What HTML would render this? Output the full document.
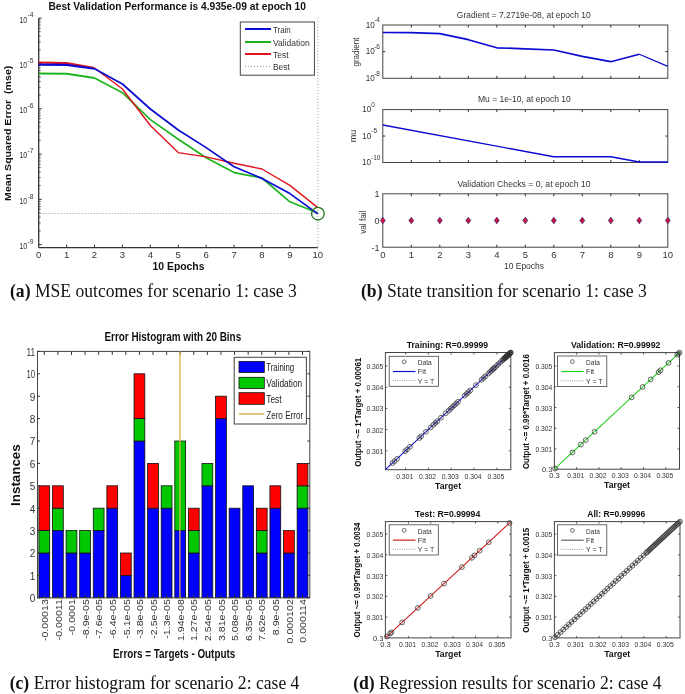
<!DOCTYPE html>
<html><head><meta charset="utf-8"><style>
html,body{margin:0;padding:0;background:#fff;width:685px;height:694px;overflow:hidden}
svg{display:block;will-change:transform;filter:blur(0.3px)}
</style></head><body>
<svg width="685" height="694" viewBox="0 0 685 694">
<rect width="685" height="694" fill="#fff"/>
<text x="48.4" y="9.9" font-size="10.4" text-anchor="start" font-weight="bold" fill="#111" font-family='"Liberation Sans", sans-serif' textLength="257.6" lengthAdjust="spacingAndGlyphs" >Best Validation Performance is 4.935e-09 at epoch 10</text>
<line x1="38.70" y1="17.90" x2="38.70" y2="247.60" stroke="#333" stroke-width="1.3" />
<line x1="38.70" y1="247.60" x2="317.80" y2="247.60" stroke="#333" stroke-width="1.3" />
<text x="38.7" y="258.0" font-size="9.5" text-anchor="middle" font-weight="normal" fill="#333" font-family='"Liberation Sans", sans-serif' >0</text>
<line x1="66.61" y1="247.60" x2="66.61" y2="244.60" stroke="#333" stroke-width="1" />
<text x="66.6" y="258.0" font-size="9.5" text-anchor="middle" font-weight="normal" fill="#333" font-family='"Liberation Sans", sans-serif' >1</text>
<line x1="94.52" y1="247.60" x2="94.52" y2="244.60" stroke="#333" stroke-width="1" />
<text x="94.5" y="258.0" font-size="9.5" text-anchor="middle" font-weight="normal" fill="#333" font-family='"Liberation Sans", sans-serif' >2</text>
<line x1="122.43" y1="247.60" x2="122.43" y2="244.60" stroke="#333" stroke-width="1" />
<text x="122.4" y="258.0" font-size="9.5" text-anchor="middle" font-weight="normal" fill="#333" font-family='"Liberation Sans", sans-serif' >3</text>
<line x1="150.34" y1="247.60" x2="150.34" y2="244.60" stroke="#333" stroke-width="1" />
<text x="150.3" y="258.0" font-size="9.5" text-anchor="middle" font-weight="normal" fill="#333" font-family='"Liberation Sans", sans-serif' >4</text>
<line x1="178.25" y1="247.60" x2="178.25" y2="244.60" stroke="#333" stroke-width="1" />
<text x="178.2" y="258.0" font-size="9.5" text-anchor="middle" font-weight="normal" fill="#333" font-family='"Liberation Sans", sans-serif' >5</text>
<line x1="206.16" y1="247.60" x2="206.16" y2="244.60" stroke="#333" stroke-width="1" />
<text x="206.2" y="258.0" font-size="9.5" text-anchor="middle" font-weight="normal" fill="#333" font-family='"Liberation Sans", sans-serif' >6</text>
<line x1="234.07" y1="247.60" x2="234.07" y2="244.60" stroke="#333" stroke-width="1" />
<text x="234.1" y="258.0" font-size="9.5" text-anchor="middle" font-weight="normal" fill="#333" font-family='"Liberation Sans", sans-serif' >7</text>
<line x1="261.98" y1="247.60" x2="261.98" y2="244.60" stroke="#333" stroke-width="1" />
<text x="262.0" y="258.0" font-size="9.5" text-anchor="middle" font-weight="normal" fill="#333" font-family='"Liberation Sans", sans-serif' >8</text>
<line x1="289.89" y1="247.60" x2="289.89" y2="244.60" stroke="#333" stroke-width="1" />
<text x="289.9" y="258.0" font-size="9.5" text-anchor="middle" font-weight="normal" fill="#333" font-family='"Liberation Sans", sans-serif' >9</text>
<text x="317.8" y="258.0" font-size="9.5" text-anchor="middle" font-weight="normal" fill="#333" font-family='"Liberation Sans", sans-serif' >10</text>
<line x1="38.70" y1="244.60" x2="41.70" y2="244.60" stroke="#333" stroke-width="1" />
<text x="27.3" y="249.0" font-size="9" text-anchor="end" font-weight="normal" fill="#333" font-family='"Liberation Sans", sans-serif' textLength="7.9" lengthAdjust="spacingAndGlyphs" >10</text>
<text x="27.6" y="243.8" font-size="6.8" text-anchor="start" font-weight="normal" fill="#333" font-family='"Liberation Sans", sans-serif' >-9</text>
<line x1="38.70" y1="230.96" x2="40.70" y2="230.96" stroke="#333" stroke-width="0.8" />
<line x1="38.70" y1="222.99" x2="40.70" y2="222.99" stroke="#333" stroke-width="0.8" />
<line x1="38.70" y1="217.33" x2="40.70" y2="217.33" stroke="#333" stroke-width="0.8" />
<line x1="38.70" y1="212.94" x2="40.70" y2="212.94" stroke="#333" stroke-width="0.8" />
<line x1="38.70" y1="209.35" x2="40.70" y2="209.35" stroke="#333" stroke-width="0.8" />
<line x1="38.70" y1="206.32" x2="40.70" y2="206.32" stroke="#333" stroke-width="0.8" />
<line x1="38.70" y1="203.69" x2="40.70" y2="203.69" stroke="#333" stroke-width="0.8" />
<line x1="38.70" y1="201.37" x2="40.70" y2="201.37" stroke="#333" stroke-width="0.8" />
<line x1="38.70" y1="199.30" x2="41.70" y2="199.30" stroke="#333" stroke-width="1" />
<text x="27.3" y="203.7" font-size="9" text-anchor="end" font-weight="normal" fill="#333" font-family='"Liberation Sans", sans-serif' textLength="7.9" lengthAdjust="spacingAndGlyphs" >10</text>
<text x="27.6" y="198.5" font-size="6.8" text-anchor="start" font-weight="normal" fill="#333" font-family='"Liberation Sans", sans-serif' >-8</text>
<line x1="38.70" y1="185.66" x2="40.70" y2="185.66" stroke="#333" stroke-width="0.8" />
<line x1="38.70" y1="177.69" x2="40.70" y2="177.69" stroke="#333" stroke-width="0.8" />
<line x1="38.70" y1="172.03" x2="40.70" y2="172.03" stroke="#333" stroke-width="0.8" />
<line x1="38.70" y1="167.64" x2="40.70" y2="167.64" stroke="#333" stroke-width="0.8" />
<line x1="38.70" y1="164.05" x2="40.70" y2="164.05" stroke="#333" stroke-width="0.8" />
<line x1="38.70" y1="161.02" x2="40.70" y2="161.02" stroke="#333" stroke-width="0.8" />
<line x1="38.70" y1="158.39" x2="40.70" y2="158.39" stroke="#333" stroke-width="0.8" />
<line x1="38.70" y1="156.07" x2="40.70" y2="156.07" stroke="#333" stroke-width="0.8" />
<line x1="38.70" y1="154.00" x2="41.70" y2="154.00" stroke="#333" stroke-width="1" />
<text x="27.3" y="158.4" font-size="9" text-anchor="end" font-weight="normal" fill="#333" font-family='"Liberation Sans", sans-serif' textLength="7.9" lengthAdjust="spacingAndGlyphs" >10</text>
<text x="27.6" y="153.2" font-size="6.8" text-anchor="start" font-weight="normal" fill="#333" font-family='"Liberation Sans", sans-serif' >-7</text>
<line x1="38.70" y1="140.36" x2="40.70" y2="140.36" stroke="#333" stroke-width="0.8" />
<line x1="38.70" y1="132.39" x2="40.70" y2="132.39" stroke="#333" stroke-width="0.8" />
<line x1="38.70" y1="126.73" x2="40.70" y2="126.73" stroke="#333" stroke-width="0.8" />
<line x1="38.70" y1="122.34" x2="40.70" y2="122.34" stroke="#333" stroke-width="0.8" />
<line x1="38.70" y1="118.75" x2="40.70" y2="118.75" stroke="#333" stroke-width="0.8" />
<line x1="38.70" y1="115.72" x2="40.70" y2="115.72" stroke="#333" stroke-width="0.8" />
<line x1="38.70" y1="113.09" x2="40.70" y2="113.09" stroke="#333" stroke-width="0.8" />
<line x1="38.70" y1="110.77" x2="40.70" y2="110.77" stroke="#333" stroke-width="0.8" />
<line x1="38.70" y1="108.70" x2="41.70" y2="108.70" stroke="#333" stroke-width="1" />
<text x="27.3" y="113.1" font-size="9" text-anchor="end" font-weight="normal" fill="#333" font-family='"Liberation Sans", sans-serif' textLength="7.9" lengthAdjust="spacingAndGlyphs" >10</text>
<text x="27.6" y="107.9" font-size="6.8" text-anchor="start" font-weight="normal" fill="#333" font-family='"Liberation Sans", sans-serif' >-6</text>
<line x1="38.70" y1="95.06" x2="40.70" y2="95.06" stroke="#333" stroke-width="0.8" />
<line x1="38.70" y1="87.09" x2="40.70" y2="87.09" stroke="#333" stroke-width="0.8" />
<line x1="38.70" y1="81.43" x2="40.70" y2="81.43" stroke="#333" stroke-width="0.8" />
<line x1="38.70" y1="77.04" x2="40.70" y2="77.04" stroke="#333" stroke-width="0.8" />
<line x1="38.70" y1="73.45" x2="40.70" y2="73.45" stroke="#333" stroke-width="0.8" />
<line x1="38.70" y1="70.42" x2="40.70" y2="70.42" stroke="#333" stroke-width="0.8" />
<line x1="38.70" y1="67.79" x2="40.70" y2="67.79" stroke="#333" stroke-width="0.8" />
<line x1="38.70" y1="65.47" x2="40.70" y2="65.47" stroke="#333" stroke-width="0.8" />
<line x1="38.70" y1="63.40" x2="41.70" y2="63.40" stroke="#333" stroke-width="1" />
<text x="27.3" y="67.8" font-size="9" text-anchor="end" font-weight="normal" fill="#333" font-family='"Liberation Sans", sans-serif' textLength="7.9" lengthAdjust="spacingAndGlyphs" >10</text>
<text x="27.6" y="62.6" font-size="6.8" text-anchor="start" font-weight="normal" fill="#333" font-family='"Liberation Sans", sans-serif' >-5</text>
<line x1="38.70" y1="49.76" x2="40.70" y2="49.76" stroke="#333" stroke-width="0.8" />
<line x1="38.70" y1="41.79" x2="40.70" y2="41.79" stroke="#333" stroke-width="0.8" />
<line x1="38.70" y1="36.13" x2="40.70" y2="36.13" stroke="#333" stroke-width="0.8" />
<line x1="38.70" y1="31.74" x2="40.70" y2="31.74" stroke="#333" stroke-width="0.8" />
<line x1="38.70" y1="28.15" x2="40.70" y2="28.15" stroke="#333" stroke-width="0.8" />
<line x1="38.70" y1="25.12" x2="40.70" y2="25.12" stroke="#333" stroke-width="0.8" />
<line x1="38.70" y1="22.49" x2="40.70" y2="22.49" stroke="#333" stroke-width="0.8" />
<line x1="38.70" y1="20.17" x2="40.70" y2="20.17" stroke="#333" stroke-width="0.8" />
<line x1="38.70" y1="18.10" x2="41.70" y2="18.10" stroke="#333" stroke-width="1" />
<text x="27.3" y="22.5" font-size="9" text-anchor="end" font-weight="normal" fill="#333" font-family='"Liberation Sans", sans-serif' textLength="7.9" lengthAdjust="spacingAndGlyphs" >10</text>
<text x="27.6" y="17.3" font-size="6.8" text-anchor="start" font-weight="normal" fill="#333" font-family='"Liberation Sans", sans-serif' >-4</text>
<text x="11.3" y="133.3" font-size="9.8" text-anchor="middle" font-weight="bold" fill="#111" font-family='"Liberation Sans", sans-serif' textLength="135.2" lengthAdjust="spacingAndGlyphs" transform="rotate(-90 11.3 133.3)" >Mean Squared Error&#160; (mse)</text>
<text x="178.5" y="270.0" font-size="10" text-anchor="middle" font-weight="bold" fill="#111" font-family='"Liberation Sans", sans-serif' textLength="52.0" lengthAdjust="spacingAndGlyphs" >10 Epochs</text>
<line x1="39.70" y1="213.50" x2="317.80" y2="213.50" stroke="#8a9c98" stroke-width="1" stroke-dasharray="1 2"/>
<line x1="317.90" y1="17.90" x2="317.90" y2="247.60" stroke="#8a9c98" stroke-width="1" stroke-dasharray="1 2"/>
<polyline points="94.52,78.00 122.43,92.70 150.34,119.60 178.25,139.20 206.16,157.80 234.07,172.60 261.98,178.00 289.89,201.80 317.80,213.00" fill="none" stroke="#1eb41e" stroke-width="1.7" stroke-linejoin="round" />
<polyline points="38.70,73.50 66.61,73.80 94.52,78.00" fill="none" stroke="#1eb41e" stroke-width="2.1" stroke-linejoin="round" />
<polyline points="94.52,68.00 122.43,89.00 150.34,125.50 178.25,152.60 206.16,156.90 234.07,163.20 261.98,169.00 289.89,185.40 317.80,207.60" fill="none" stroke="#e0141e" stroke-width="1.4" stroke-linejoin="round" />
<polyline points="38.70,62.50 66.61,63.10 94.52,68.00" fill="none" stroke="#e0141e" stroke-width="2.1" stroke-linejoin="round" />
<polyline points="94.52,68.80 122.43,84.00 150.34,109.00 178.25,130.00 206.16,147.60 234.07,166.70 261.98,178.40 289.89,193.60 317.80,213.90" fill="none" stroke="#0a0ad2" stroke-width="1.7" stroke-linejoin="round" />
<polyline points="38.70,64.60 66.61,64.90 94.52,68.80" fill="none" stroke="#0a0ad2" stroke-width="2.1" stroke-linejoin="round" />
<circle cx="317.9" cy="213.7" r="6.3" fill="none" stroke="#1a7a1a" stroke-width="1.3"/>
<rect x="240.30" y="22.00" width="74.10" height="53.20" fill="#fff" stroke="#444" stroke-width="1" />
<line x1="245.00" y1="29.00" x2="271.00" y2="29.00" stroke="#0a0ad2" stroke-width="2" />
<text x="273.0" y="32.9" font-size="9.6" text-anchor="start" font-weight="normal" fill="#333" font-family='"Liberation Sans", sans-serif' textLength="17.8" lengthAdjust="spacingAndGlyphs" >Train</text>
<line x1="245.00" y1="42.00" x2="271.00" y2="42.00" stroke="#1eb41e" stroke-width="2" />
<text x="273.0" y="45.9" font-size="9.6" text-anchor="start" font-weight="normal" fill="#333" font-family='"Liberation Sans", sans-serif' textLength="36.6" lengthAdjust="spacingAndGlyphs" >Validation</text>
<line x1="245.00" y1="54.00" x2="271.00" y2="54.00" stroke="#e0141e" stroke-width="2" />
<text x="273.0" y="57.9" font-size="9.6" text-anchor="start" font-weight="normal" fill="#333" font-family='"Liberation Sans", sans-serif' textLength="15.7" lengthAdjust="spacingAndGlyphs" >Test</text>
<line x1="245.00" y1="66.40" x2="271.00" y2="66.40" stroke="#8a9c98" stroke-width="1" stroke-dasharray="1 2"/>
<text x="273.0" y="70.3" font-size="9.6" text-anchor="start" font-weight="normal" fill="#333" font-family='"Liberation Sans", sans-serif' textLength="16.8" lengthAdjust="spacingAndGlyphs" >Best</text>
<text x="0" y="0" transform="translate(10 296.7) scale(1 1.07)" font-size="17.6" font-family='"Liberation Serif", serif' fill="#111"><tspan font-weight="bold">(a)</tspan> MSE outcomes for scenario 1: case 3</text>
<rect x="382.80" y="25.00" width="285.00" height="53.30" fill="none" stroke="#444" stroke-width="1" />
<line x1="411.30" y1="25.00" x2="411.30" y2="27.50" stroke="#333" stroke-width="1" />
<line x1="411.30" y1="78.30" x2="411.30" y2="75.80" stroke="#333" stroke-width="1" />
<line x1="439.80" y1="25.00" x2="439.80" y2="27.50" stroke="#333" stroke-width="1" />
<line x1="439.80" y1="78.30" x2="439.80" y2="75.80" stroke="#333" stroke-width="1" />
<line x1="468.30" y1="25.00" x2="468.30" y2="27.50" stroke="#333" stroke-width="1" />
<line x1="468.30" y1="78.30" x2="468.30" y2="75.80" stroke="#333" stroke-width="1" />
<line x1="496.80" y1="25.00" x2="496.80" y2="27.50" stroke="#333" stroke-width="1" />
<line x1="496.80" y1="78.30" x2="496.80" y2="75.80" stroke="#333" stroke-width="1" />
<line x1="525.30" y1="25.00" x2="525.30" y2="27.50" stroke="#333" stroke-width="1" />
<line x1="525.30" y1="78.30" x2="525.30" y2="75.80" stroke="#333" stroke-width="1" />
<line x1="553.80" y1="25.00" x2="553.80" y2="27.50" stroke="#333" stroke-width="1" />
<line x1="553.80" y1="78.30" x2="553.80" y2="75.80" stroke="#333" stroke-width="1" />
<line x1="582.30" y1="25.00" x2="582.30" y2="27.50" stroke="#333" stroke-width="1" />
<line x1="582.30" y1="78.30" x2="582.30" y2="75.80" stroke="#333" stroke-width="1" />
<line x1="610.80" y1="25.00" x2="610.80" y2="27.50" stroke="#333" stroke-width="1" />
<line x1="610.80" y1="78.30" x2="610.80" y2="75.80" stroke="#333" stroke-width="1" />
<line x1="639.30" y1="25.00" x2="639.30" y2="27.50" stroke="#333" stroke-width="1" />
<line x1="639.30" y1="78.30" x2="639.30" y2="75.80" stroke="#333" stroke-width="1" />
<line x1="667.80" y1="51.65" x2="665.30" y2="51.65" stroke="#333" stroke-width="1" />
<line x1="382.80" y1="51.65" x2="385.30" y2="51.65" stroke="#333" stroke-width="1" />
<text x="374.8" y="27.7" font-size="9" text-anchor="end" font-weight="normal" fill="#333" font-family='"Liberation Sans", sans-serif' textLength="9.0" lengthAdjust="spacingAndGlyphs" >10</text>
<text x="374.2" y="22.4" font-size="6.5" text-anchor="start" font-weight="normal" fill="#333" font-family='"Liberation Sans", sans-serif' >-4</text>
<text x="374.8" y="54.4" font-size="9" text-anchor="end" font-weight="normal" fill="#333" font-family='"Liberation Sans", sans-serif' textLength="9.0" lengthAdjust="spacingAndGlyphs" >10</text>
<text x="374.2" y="49.0" font-size="6.5" text-anchor="start" font-weight="normal" fill="#333" font-family='"Liberation Sans", sans-serif' >-6</text>
<text x="374.8" y="81.0" font-size="9" text-anchor="end" font-weight="normal" fill="#333" font-family='"Liberation Sans", sans-serif' textLength="9.0" lengthAdjust="spacingAndGlyphs" >10</text>
<text x="374.2" y="75.7" font-size="6.5" text-anchor="start" font-weight="normal" fill="#333" font-family='"Liberation Sans", sans-serif' >-8</text>
<text x="456.8" y="17.7" font-size="9" text-anchor="start" font-weight="normal" fill="#333" font-family='"Liberation Sans", sans-serif' textLength="133.9" lengthAdjust="spacingAndGlyphs" >Gradient = 7.2719e-08, at epoch 10</text>
<text x="359.4" y="52.0" font-size="9" text-anchor="middle" font-weight="normal" fill="#333" font-family='"Liberation Sans", sans-serif' textLength="29.2" lengthAdjust="spacingAndGlyphs" transform="rotate(-90 359.4 52.0)" >gradient</text>
<polyline points="382.80,32.50 411.30,32.70 439.80,33.60 468.30,39.70 496.80,47.80 525.30,48.80 553.80,50.00 582.30,56.30 610.80,61.70 639.30,54.20" fill="none" stroke="#0a0ad2" stroke-width="1.7" stroke-linejoin="round" />
<polyline points="639.30,54.20 667.80,66.40" fill="none" stroke="#0a0ad2" stroke-width="1.2" stroke-linejoin="round" />
<rect x="382.80" y="109.60" width="285.00" height="52.90" fill="none" stroke="#444" stroke-width="1" />
<line x1="411.30" y1="109.60" x2="411.30" y2="112.10" stroke="#333" stroke-width="1" />
<line x1="411.30" y1="162.50" x2="411.30" y2="160.00" stroke="#333" stroke-width="1" />
<line x1="439.80" y1="109.60" x2="439.80" y2="112.10" stroke="#333" stroke-width="1" />
<line x1="439.80" y1="162.50" x2="439.80" y2="160.00" stroke="#333" stroke-width="1" />
<line x1="468.30" y1="109.60" x2="468.30" y2="112.10" stroke="#333" stroke-width="1" />
<line x1="468.30" y1="162.50" x2="468.30" y2="160.00" stroke="#333" stroke-width="1" />
<line x1="496.80" y1="109.60" x2="496.80" y2="112.10" stroke="#333" stroke-width="1" />
<line x1="496.80" y1="162.50" x2="496.80" y2="160.00" stroke="#333" stroke-width="1" />
<line x1="525.30" y1="109.60" x2="525.30" y2="112.10" stroke="#333" stroke-width="1" />
<line x1="525.30" y1="162.50" x2="525.30" y2="160.00" stroke="#333" stroke-width="1" />
<line x1="553.80" y1="109.60" x2="553.80" y2="112.10" stroke="#333" stroke-width="1" />
<line x1="553.80" y1="162.50" x2="553.80" y2="160.00" stroke="#333" stroke-width="1" />
<line x1="582.30" y1="109.60" x2="582.30" y2="112.10" stroke="#333" stroke-width="1" />
<line x1="582.30" y1="162.50" x2="582.30" y2="160.00" stroke="#333" stroke-width="1" />
<line x1="610.80" y1="109.60" x2="610.80" y2="112.10" stroke="#333" stroke-width="1" />
<line x1="610.80" y1="162.50" x2="610.80" y2="160.00" stroke="#333" stroke-width="1" />
<line x1="639.30" y1="109.60" x2="639.30" y2="112.10" stroke="#333" stroke-width="1" />
<line x1="639.30" y1="162.50" x2="639.30" y2="160.00" stroke="#333" stroke-width="1" />
<line x1="667.80" y1="136.05" x2="665.30" y2="136.05" stroke="#333" stroke-width="1" />
<line x1="382.80" y1="136.05" x2="385.30" y2="136.05" stroke="#333" stroke-width="1" />
<text x="371.3" y="112.2" font-size="9" text-anchor="end" font-weight="normal" fill="#333" font-family='"Liberation Sans", sans-serif' textLength="9.0" lengthAdjust="spacingAndGlyphs" >10</text>
<text x="371.3" y="106.6" font-size="6.5" text-anchor="start" font-weight="normal" fill="#333" font-family='"Liberation Sans", sans-serif' >0</text>
<text x="371.3" y="138.7" font-size="9" text-anchor="end" font-weight="normal" fill="#333" font-family='"Liberation Sans", sans-serif' textLength="9.0" lengthAdjust="spacingAndGlyphs" >10</text>
<text x="371.3" y="133.1" font-size="6.5" text-anchor="start" font-weight="normal" fill="#333" font-family='"Liberation Sans", sans-serif' >-5</text>
<text x="371.0" y="165.1" font-size="9" text-anchor="end" font-weight="normal" fill="#333" font-family='"Liberation Sans", sans-serif' textLength="9.0" lengthAdjust="spacingAndGlyphs" >10</text>
<text x="371.0" y="159.5" font-size="6.5" text-anchor="start" font-weight="normal" fill="#333" font-family='"Liberation Sans", sans-serif' >-10</text>
<text x="478.0" y="101.7" font-size="9" text-anchor="start" font-weight="normal" fill="#333" font-family='"Liberation Sans", sans-serif' textLength="92.8" lengthAdjust="spacingAndGlyphs" >Mu = 1e-10, at epoch 10</text>
<text x="356.0" y="136.0" font-size="9" text-anchor="middle" font-weight="normal" fill="#333" font-family='"Liberation Sans", sans-serif' transform="rotate(-90 356.0 136.0)" >mu</text>
<polyline points="382.80,125.00 553.80,156.80 610.80,156.80 639.30,162.00 667.80,162.00" fill="none" stroke="#0a0ad2" stroke-width="1.4" stroke-linejoin="round" />
<rect x="382.80" y="193.80" width="285.00" height="53.40" fill="none" stroke="#444" stroke-width="1" />
<line x1="411.30" y1="193.80" x2="411.30" y2="196.30" stroke="#333" stroke-width="1" />
<line x1="411.30" y1="247.20" x2="411.30" y2="244.70" stroke="#333" stroke-width="1" />
<line x1="439.80" y1="193.80" x2="439.80" y2="196.30" stroke="#333" stroke-width="1" />
<line x1="439.80" y1="247.20" x2="439.80" y2="244.70" stroke="#333" stroke-width="1" />
<line x1="468.30" y1="193.80" x2="468.30" y2="196.30" stroke="#333" stroke-width="1" />
<line x1="468.30" y1="247.20" x2="468.30" y2="244.70" stroke="#333" stroke-width="1" />
<line x1="496.80" y1="193.80" x2="496.80" y2="196.30" stroke="#333" stroke-width="1" />
<line x1="496.80" y1="247.20" x2="496.80" y2="244.70" stroke="#333" stroke-width="1" />
<line x1="525.30" y1="193.80" x2="525.30" y2="196.30" stroke="#333" stroke-width="1" />
<line x1="525.30" y1="247.20" x2="525.30" y2="244.70" stroke="#333" stroke-width="1" />
<line x1="553.80" y1="193.80" x2="553.80" y2="196.30" stroke="#333" stroke-width="1" />
<line x1="553.80" y1="247.20" x2="553.80" y2="244.70" stroke="#333" stroke-width="1" />
<line x1="582.30" y1="193.80" x2="582.30" y2="196.30" stroke="#333" stroke-width="1" />
<line x1="582.30" y1="247.20" x2="582.30" y2="244.70" stroke="#333" stroke-width="1" />
<line x1="610.80" y1="193.80" x2="610.80" y2="196.30" stroke="#333" stroke-width="1" />
<line x1="610.80" y1="247.20" x2="610.80" y2="244.70" stroke="#333" stroke-width="1" />
<line x1="639.30" y1="193.80" x2="639.30" y2="196.30" stroke="#333" stroke-width="1" />
<line x1="639.30" y1="247.20" x2="639.30" y2="244.70" stroke="#333" stroke-width="1" />
<text x="379.5" y="197.3" font-size="9" text-anchor="end" font-weight="normal" fill="#333" font-family='"Liberation Sans", sans-serif' >1</text>
<text x="379.5" y="224.0" font-size="9" text-anchor="end" font-weight="normal" fill="#333" font-family='"Liberation Sans", sans-serif' >0</text>
<text x="379.5" y="250.7" font-size="9" text-anchor="end" font-weight="normal" fill="#333" font-family='"Liberation Sans", sans-serif' >-1</text>
<text x="457.4" y="187.1" font-size="9.4" text-anchor="start" font-weight="normal" fill="#333" font-family='"Liberation Sans", sans-serif' textLength="133.1" lengthAdjust="spacingAndGlyphs" >Validation Checks = 0, at epoch 10</text>
<text x="366.0" y="222.2" font-size="9" text-anchor="middle" font-weight="normal" fill="#333" font-family='"Liberation Sans", sans-serif' textLength="23.3" lengthAdjust="spacingAndGlyphs" transform="rotate(-90 366.0 222.2)" >val fail</text>
<path d="M382.80 217.20 L385.20 220.50 L382.80 223.80 L380.40 220.50 Z" fill="#d0103a" stroke="#402a78" stroke-width="0.8"/>
<text x="382.8" y="257.8" font-size="9.5" text-anchor="middle" font-weight="normal" fill="#333" font-family='"Liberation Sans", sans-serif' >0</text>
<path d="M411.30 217.20 L413.70 220.50 L411.30 223.80 L408.90 220.50 Z" fill="#d0103a" stroke="#402a78" stroke-width="0.8"/>
<text x="411.3" y="257.8" font-size="9.5" text-anchor="middle" font-weight="normal" fill="#333" font-family='"Liberation Sans", sans-serif' >1</text>
<path d="M439.80 217.20 L442.20 220.50 L439.80 223.80 L437.40 220.50 Z" fill="#d0103a" stroke="#402a78" stroke-width="0.8"/>
<text x="439.8" y="257.8" font-size="9.5" text-anchor="middle" font-weight="normal" fill="#333" font-family='"Liberation Sans", sans-serif' >2</text>
<path d="M468.30 217.20 L470.70 220.50 L468.30 223.80 L465.90 220.50 Z" fill="#d0103a" stroke="#402a78" stroke-width="0.8"/>
<text x="468.3" y="257.8" font-size="9.5" text-anchor="middle" font-weight="normal" fill="#333" font-family='"Liberation Sans", sans-serif' >3</text>
<path d="M496.80 217.20 L499.20 220.50 L496.80 223.80 L494.40 220.50 Z" fill="#d0103a" stroke="#402a78" stroke-width="0.8"/>
<text x="496.8" y="257.8" font-size="9.5" text-anchor="middle" font-weight="normal" fill="#333" font-family='"Liberation Sans", sans-serif' >4</text>
<path d="M525.30 217.20 L527.70 220.50 L525.30 223.80 L522.90 220.50 Z" fill="#d0103a" stroke="#402a78" stroke-width="0.8"/>
<text x="525.3" y="257.8" font-size="9.5" text-anchor="middle" font-weight="normal" fill="#333" font-family='"Liberation Sans", sans-serif' >5</text>
<path d="M553.80 217.20 L556.20 220.50 L553.80 223.80 L551.40 220.50 Z" fill="#d0103a" stroke="#402a78" stroke-width="0.8"/>
<text x="553.8" y="257.8" font-size="9.5" text-anchor="middle" font-weight="normal" fill="#333" font-family='"Liberation Sans", sans-serif' >6</text>
<path d="M582.30 217.20 L584.70 220.50 L582.30 223.80 L579.90 220.50 Z" fill="#d0103a" stroke="#402a78" stroke-width="0.8"/>
<text x="582.3" y="257.8" font-size="9.5" text-anchor="middle" font-weight="normal" fill="#333" font-family='"Liberation Sans", sans-serif' >7</text>
<path d="M610.80 217.20 L613.20 220.50 L610.80 223.80 L608.40 220.50 Z" fill="#d0103a" stroke="#402a78" stroke-width="0.8"/>
<text x="610.8" y="257.8" font-size="9.5" text-anchor="middle" font-weight="normal" fill="#333" font-family='"Liberation Sans", sans-serif' >8</text>
<path d="M639.30 217.20 L641.70 220.50 L639.30 223.80 L636.90 220.50 Z" fill="#d0103a" stroke="#402a78" stroke-width="0.8"/>
<text x="639.3" y="257.8" font-size="9.5" text-anchor="middle" font-weight="normal" fill="#333" font-family='"Liberation Sans", sans-serif' >9</text>
<path d="M667.80 217.20 L670.20 220.50 L667.80 223.80 L665.40 220.50 Z" fill="#d0103a" stroke="#402a78" stroke-width="0.8"/>
<text x="667.8" y="257.8" font-size="9.5" text-anchor="middle" font-weight="normal" fill="#333" font-family='"Liberation Sans", sans-serif' >10</text>
<text x="524.0" y="269.0" font-size="9" text-anchor="middle" font-weight="normal" fill="#333" font-family='"Liberation Sans", sans-serif' textLength="40.0" lengthAdjust="spacingAndGlyphs" >10 Epochs</text>
<text x="0" y="0" transform="translate(361 297) scale(1 1.07)" font-size="17.6" font-family='"Liberation Serif", serif' fill="#111"><tspan font-weight="bold">(b)</tspan> State transition for scenario 1: case 3</text>
<text x="104.4" y="341.4" font-size="13" text-anchor="start" font-weight="bold" fill="#111" font-family='"Liberation Sans", sans-serif' textLength="136.8" lengthAdjust="spacingAndGlyphs" >Error Histogram with 20 Bins</text>
<rect x="38.90" y="553.00" width="10.80" height="44.80" fill="#0000ff" stroke="#111" stroke-width="0.8" />
<rect x="38.90" y="530.60" width="10.80" height="22.40" fill="#00c800" stroke="#111" stroke-width="0.8" />
<rect x="38.90" y="485.80" width="10.80" height="44.80" fill="#ff0000" stroke="#111" stroke-width="0.8" />
<text x="0" y="0" font-size="9" text-anchor="end" fill="#333" font-family='"Liberation Sans", sans-serif' transform="translate(48.00 599.2) rotate(-90) scale(1.18 1)">-0.00013</text>
<rect x="52.49" y="530.60" width="10.80" height="67.20" fill="#0000ff" stroke="#111" stroke-width="0.8" />
<rect x="52.49" y="508.20" width="10.80" height="22.40" fill="#00c800" stroke="#111" stroke-width="0.8" />
<rect x="52.49" y="485.80" width="10.80" height="22.40" fill="#ff0000" stroke="#111" stroke-width="0.8" />
<text x="0" y="0" font-size="9" text-anchor="end" fill="#333" font-family='"Liberation Sans", sans-serif' transform="translate(61.59 599.2) rotate(-90) scale(1.18 1)">-0.00011</text>
<rect x="66.08" y="553.00" width="10.80" height="44.80" fill="#0000ff" stroke="#111" stroke-width="0.8" />
<rect x="66.08" y="530.60" width="10.80" height="22.40" fill="#00c800" stroke="#111" stroke-width="0.8" />
<text x="0" y="0" font-size="9" text-anchor="end" fill="#333" font-family='"Liberation Sans", sans-serif' transform="translate(75.18 599.2) rotate(-90) scale(1.18 1)">-0.0001</text>
<rect x="79.67" y="553.00" width="10.80" height="44.80" fill="#0000ff" stroke="#111" stroke-width="0.8" />
<rect x="79.67" y="530.60" width="10.80" height="22.40" fill="#00c800" stroke="#111" stroke-width="0.8" />
<text x="0" y="0" font-size="9" text-anchor="end" fill="#333" font-family='"Liberation Sans", sans-serif' transform="translate(88.77 599.2) rotate(-90) scale(1.18 1)">-8.9e-05</text>
<rect x="93.26" y="530.60" width="10.80" height="67.20" fill="#0000ff" stroke="#111" stroke-width="0.8" />
<rect x="93.26" y="508.20" width="10.80" height="22.40" fill="#00c800" stroke="#111" stroke-width="0.8" />
<text x="0" y="0" font-size="9" text-anchor="end" fill="#333" font-family='"Liberation Sans", sans-serif' transform="translate(102.36 599.2) rotate(-90) scale(1.18 1)">-7.6e-05</text>
<rect x="106.85" y="508.20" width="10.80" height="89.60" fill="#0000ff" stroke="#111" stroke-width="0.8" />
<rect x="106.85" y="485.80" width="10.80" height="22.40" fill="#ff0000" stroke="#111" stroke-width="0.8" />
<text x="0" y="0" font-size="9" text-anchor="end" fill="#333" font-family='"Liberation Sans", sans-serif' transform="translate(115.95 599.2) rotate(-90) scale(1.18 1)">-6.4e-05</text>
<rect x="120.44" y="575.40" width="10.80" height="22.40" fill="#0000ff" stroke="#111" stroke-width="0.8" />
<rect x="120.44" y="553.00" width="10.80" height="22.40" fill="#ff0000" stroke="#111" stroke-width="0.8" />
<text x="0" y="0" font-size="9" text-anchor="end" fill="#333" font-family='"Liberation Sans", sans-serif' transform="translate(129.54 599.2) rotate(-90) scale(1.18 1)">-5.1e-05</text>
<rect x="134.03" y="441.00" width="10.80" height="156.80" fill="#0000ff" stroke="#111" stroke-width="0.8" />
<rect x="134.03" y="418.60" width="10.80" height="22.40" fill="#00c800" stroke="#111" stroke-width="0.8" />
<rect x="134.03" y="373.80" width="10.80" height="44.80" fill="#ff0000" stroke="#111" stroke-width="0.8" />
<text x="0" y="0" font-size="9" text-anchor="end" fill="#333" font-family='"Liberation Sans", sans-serif' transform="translate(143.13 599.2) rotate(-90) scale(1.18 1)">-3.8e-05</text>
<rect x="147.62" y="508.20" width="10.80" height="89.60" fill="#0000ff" stroke="#111" stroke-width="0.8" />
<rect x="147.62" y="463.40" width="10.80" height="44.80" fill="#ff0000" stroke="#111" stroke-width="0.8" />
<text x="0" y="0" font-size="9" text-anchor="end" fill="#333" font-family='"Liberation Sans", sans-serif' transform="translate(156.72 599.2) rotate(-90) scale(1.18 1)">-2.5e-05</text>
<rect x="161.21" y="508.20" width="10.80" height="89.60" fill="#0000ff" stroke="#111" stroke-width="0.8" />
<rect x="161.21" y="485.80" width="10.80" height="22.40" fill="#00c800" stroke="#111" stroke-width="0.8" />
<text x="0" y="0" font-size="9" text-anchor="end" fill="#333" font-family='"Liberation Sans", sans-serif' transform="translate(170.31 599.2) rotate(-90) scale(1.18 1)">-1.3e-05</text>
<rect x="174.80" y="530.60" width="10.80" height="67.20" fill="#0000ff" stroke="#111" stroke-width="0.8" />
<rect x="174.80" y="441.00" width="10.80" height="89.60" fill="#00c800" stroke="#111" stroke-width="0.8" />
<text x="0" y="0" font-size="9" text-anchor="end" fill="#333" font-family='"Liberation Sans", sans-serif' transform="translate(183.90 599.2) rotate(-90) scale(1.18 1)">1.94e-08</text>
<rect x="188.39" y="553.00" width="10.80" height="44.80" fill="#0000ff" stroke="#111" stroke-width="0.8" />
<rect x="188.39" y="530.60" width="10.80" height="22.40" fill="#00c800" stroke="#111" stroke-width="0.8" />
<rect x="188.39" y="508.20" width="10.80" height="22.40" fill="#ff0000" stroke="#111" stroke-width="0.8" />
<text x="0" y="0" font-size="9" text-anchor="end" fill="#333" font-family='"Liberation Sans", sans-serif' transform="translate(197.49 599.2) rotate(-90) scale(1.18 1)">1.27e-05</text>
<rect x="201.98" y="485.80" width="10.80" height="112.00" fill="#0000ff" stroke="#111" stroke-width="0.8" />
<rect x="201.98" y="463.40" width="10.80" height="22.40" fill="#00c800" stroke="#111" stroke-width="0.8" />
<text x="0" y="0" font-size="9" text-anchor="end" fill="#333" font-family='"Liberation Sans", sans-serif' transform="translate(211.08 599.2) rotate(-90) scale(1.18 1)">2.54e-05</text>
<rect x="215.57" y="418.60" width="10.80" height="179.20" fill="#0000ff" stroke="#111" stroke-width="0.8" />
<rect x="215.57" y="396.20" width="10.80" height="22.40" fill="#ff0000" stroke="#111" stroke-width="0.8" />
<text x="0" y="0" font-size="9" text-anchor="end" fill="#333" font-family='"Liberation Sans", sans-serif' transform="translate(224.67 599.2) rotate(-90) scale(1.18 1)">3.81e-05</text>
<rect x="229.16" y="508.20" width="10.80" height="89.60" fill="#0000ff" stroke="#111" stroke-width="0.8" />
<text x="0" y="0" font-size="9" text-anchor="end" fill="#333" font-family='"Liberation Sans", sans-serif' transform="translate(238.26 599.2) rotate(-90) scale(1.18 1)">5.08e-05</text>
<rect x="242.75" y="485.80" width="10.80" height="112.00" fill="#0000ff" stroke="#111" stroke-width="0.8" />
<text x="0" y="0" font-size="9" text-anchor="end" fill="#333" font-family='"Liberation Sans", sans-serif' transform="translate(251.85 599.2) rotate(-90) scale(1.18 1)">6.35e-05</text>
<rect x="256.34" y="553.00" width="10.80" height="44.80" fill="#0000ff" stroke="#111" stroke-width="0.8" />
<rect x="256.34" y="530.60" width="10.80" height="22.40" fill="#00c800" stroke="#111" stroke-width="0.8" />
<rect x="256.34" y="508.20" width="10.80" height="22.40" fill="#ff0000" stroke="#111" stroke-width="0.8" />
<text x="0" y="0" font-size="9" text-anchor="end" fill="#333" font-family='"Liberation Sans", sans-serif' transform="translate(265.44 599.2) rotate(-90) scale(1.18 1)">7.62e-05</text>
<rect x="269.93" y="508.20" width="10.80" height="89.60" fill="#0000ff" stroke="#111" stroke-width="0.8" />
<rect x="269.93" y="485.80" width="10.80" height="22.40" fill="#ff0000" stroke="#111" stroke-width="0.8" />
<text x="0" y="0" font-size="9" text-anchor="end" fill="#333" font-family='"Liberation Sans", sans-serif' transform="translate(279.03 599.2) rotate(-90) scale(1.18 1)">8.9e-05</text>
<rect x="283.52" y="553.00" width="10.80" height="44.80" fill="#0000ff" stroke="#111" stroke-width="0.8" />
<rect x="283.52" y="530.60" width="10.80" height="22.40" fill="#ff0000" stroke="#111" stroke-width="0.8" />
<text x="0" y="0" font-size="9" text-anchor="end" fill="#333" font-family='"Liberation Sans", sans-serif' transform="translate(292.62 599.2) rotate(-90) scale(1.18 1)">0.000102</text>
<rect x="297.11" y="508.20" width="10.80" height="89.60" fill="#0000ff" stroke="#111" stroke-width="0.8" />
<rect x="297.11" y="485.80" width="10.80" height="22.40" fill="#00c800" stroke="#111" stroke-width="0.8" />
<rect x="297.11" y="463.40" width="10.80" height="22.40" fill="#ff0000" stroke="#111" stroke-width="0.8" />
<text x="0" y="0" font-size="9" text-anchor="end" fill="#333" font-family='"Liberation Sans", sans-serif' transform="translate(306.21 599.2) rotate(-90) scale(1.18 1)">0.000114</text>
<rect x="37.50" y="351.40" width="272.30" height="246.40" fill="none" stroke="#444" stroke-width="1" />
<line x1="37.50" y1="597.80" x2="40.00" y2="597.80" stroke="#333" stroke-width="1" />
<line x1="309.80" y1="597.80" x2="307.30" y2="597.80" stroke="#333" stroke-width="1" />
<text x="35.2" y="602.2" font-size="10" text-anchor="end" font-weight="normal" fill="#333" font-family='"Liberation Sans", sans-serif' >0</text>
<line x1="37.50" y1="575.40" x2="40.00" y2="575.40" stroke="#333" stroke-width="1" />
<line x1="309.80" y1="575.40" x2="307.30" y2="575.40" stroke="#333" stroke-width="1" />
<text x="35.2" y="579.8" font-size="10" text-anchor="end" font-weight="normal" fill="#333" font-family='"Liberation Sans", sans-serif' >1</text>
<line x1="37.50" y1="553.00" x2="40.00" y2="553.00" stroke="#333" stroke-width="1" />
<line x1="309.80" y1="553.00" x2="307.30" y2="553.00" stroke="#333" stroke-width="1" />
<text x="35.2" y="557.4" font-size="10" text-anchor="end" font-weight="normal" fill="#333" font-family='"Liberation Sans", sans-serif' >2</text>
<line x1="37.50" y1="530.60" x2="40.00" y2="530.60" stroke="#333" stroke-width="1" />
<line x1="309.80" y1="530.60" x2="307.30" y2="530.60" stroke="#333" stroke-width="1" />
<text x="35.2" y="535.0" font-size="10" text-anchor="end" font-weight="normal" fill="#333" font-family='"Liberation Sans", sans-serif' >3</text>
<line x1="37.50" y1="508.20" x2="40.00" y2="508.20" stroke="#333" stroke-width="1" />
<line x1="309.80" y1="508.20" x2="307.30" y2="508.20" stroke="#333" stroke-width="1" />
<text x="35.2" y="512.6" font-size="10" text-anchor="end" font-weight="normal" fill="#333" font-family='"Liberation Sans", sans-serif' >4</text>
<line x1="37.50" y1="485.80" x2="40.00" y2="485.80" stroke="#333" stroke-width="1" />
<line x1="309.80" y1="485.80" x2="307.30" y2="485.80" stroke="#333" stroke-width="1" />
<text x="35.2" y="490.2" font-size="10" text-anchor="end" font-weight="normal" fill="#333" font-family='"Liberation Sans", sans-serif' >5</text>
<line x1="37.50" y1="463.40" x2="40.00" y2="463.40" stroke="#333" stroke-width="1" />
<line x1="309.80" y1="463.40" x2="307.30" y2="463.40" stroke="#333" stroke-width="1" />
<text x="35.2" y="467.8" font-size="10" text-anchor="end" font-weight="normal" fill="#333" font-family='"Liberation Sans", sans-serif' >6</text>
<line x1="37.50" y1="441.00" x2="40.00" y2="441.00" stroke="#333" stroke-width="1" />
<line x1="309.80" y1="441.00" x2="307.30" y2="441.00" stroke="#333" stroke-width="1" />
<text x="35.2" y="445.4" font-size="10" text-anchor="end" font-weight="normal" fill="#333" font-family='"Liberation Sans", sans-serif' >7</text>
<line x1="37.50" y1="418.60" x2="40.00" y2="418.60" stroke="#333" stroke-width="1" />
<line x1="309.80" y1="418.60" x2="307.30" y2="418.60" stroke="#333" stroke-width="1" />
<text x="35.2" y="423.0" font-size="10" text-anchor="end" font-weight="normal" fill="#333" font-family='"Liberation Sans", sans-serif' >8</text>
<line x1="37.50" y1="396.20" x2="40.00" y2="396.20" stroke="#333" stroke-width="1" />
<line x1="309.80" y1="396.20" x2="307.30" y2="396.20" stroke="#333" stroke-width="1" />
<text x="35.2" y="400.6" font-size="10" text-anchor="end" font-weight="normal" fill="#333" font-family='"Liberation Sans", sans-serif' >9</text>
<line x1="37.50" y1="373.80" x2="40.00" y2="373.80" stroke="#333" stroke-width="1" />
<line x1="309.80" y1="373.80" x2="307.30" y2="373.80" stroke="#333" stroke-width="1" />
<text x="35.2" y="378.2" font-size="10" text-anchor="end" font-weight="normal" fill="#333" font-family='"Liberation Sans", sans-serif' textLength="8.7" lengthAdjust="spacingAndGlyphs" >10</text>
<line x1="37.50" y1="351.40" x2="40.00" y2="351.40" stroke="#333" stroke-width="1" />
<line x1="309.80" y1="351.40" x2="307.30" y2="351.40" stroke="#333" stroke-width="1" />
<text x="35.2" y="355.8" font-size="10" text-anchor="end" font-weight="normal" fill="#333" font-family='"Liberation Sans", sans-serif' textLength="8.7" lengthAdjust="spacingAndGlyphs" >11</text>
<line x1="44.30" y1="351.40" x2="44.30" y2="354.90" stroke="#333" stroke-width="1" />
<line x1="44.30" y1="597.80" x2="44.30" y2="594.30" stroke="#333" stroke-width="1" />
<line x1="57.89" y1="351.40" x2="57.89" y2="354.90" stroke="#333" stroke-width="1" />
<line x1="57.89" y1="597.80" x2="57.89" y2="594.30" stroke="#333" stroke-width="1" />
<line x1="71.48" y1="351.40" x2="71.48" y2="354.90" stroke="#333" stroke-width="1" />
<line x1="71.48" y1="597.80" x2="71.48" y2="594.30" stroke="#333" stroke-width="1" />
<line x1="85.07" y1="351.40" x2="85.07" y2="354.90" stroke="#333" stroke-width="1" />
<line x1="85.07" y1="597.80" x2="85.07" y2="594.30" stroke="#333" stroke-width="1" />
<line x1="98.66" y1="351.40" x2="98.66" y2="354.90" stroke="#333" stroke-width="1" />
<line x1="98.66" y1="597.80" x2="98.66" y2="594.30" stroke="#333" stroke-width="1" />
<line x1="112.25" y1="351.40" x2="112.25" y2="354.90" stroke="#333" stroke-width="1" />
<line x1="112.25" y1="597.80" x2="112.25" y2="594.30" stroke="#333" stroke-width="1" />
<line x1="125.84" y1="351.40" x2="125.84" y2="354.90" stroke="#333" stroke-width="1" />
<line x1="125.84" y1="597.80" x2="125.84" y2="594.30" stroke="#333" stroke-width="1" />
<line x1="139.43" y1="351.40" x2="139.43" y2="354.90" stroke="#333" stroke-width="1" />
<line x1="139.43" y1="597.80" x2="139.43" y2="594.30" stroke="#333" stroke-width="1" />
<line x1="153.02" y1="351.40" x2="153.02" y2="354.90" stroke="#333" stroke-width="1" />
<line x1="153.02" y1="597.80" x2="153.02" y2="594.30" stroke="#333" stroke-width="1" />
<line x1="166.61" y1="351.40" x2="166.61" y2="354.90" stroke="#333" stroke-width="1" />
<line x1="166.61" y1="597.80" x2="166.61" y2="594.30" stroke="#333" stroke-width="1" />
<line x1="180.20" y1="351.40" x2="180.20" y2="354.90" stroke="#333" stroke-width="1" />
<line x1="180.20" y1="597.80" x2="180.20" y2="594.30" stroke="#333" stroke-width="1" />
<line x1="193.79" y1="351.40" x2="193.79" y2="354.90" stroke="#333" stroke-width="1" />
<line x1="193.79" y1="597.80" x2="193.79" y2="594.30" stroke="#333" stroke-width="1" />
<line x1="207.38" y1="351.40" x2="207.38" y2="354.90" stroke="#333" stroke-width="1" />
<line x1="207.38" y1="597.80" x2="207.38" y2="594.30" stroke="#333" stroke-width="1" />
<line x1="220.97" y1="351.40" x2="220.97" y2="354.90" stroke="#333" stroke-width="1" />
<line x1="220.97" y1="597.80" x2="220.97" y2="594.30" stroke="#333" stroke-width="1" />
<line x1="234.56" y1="351.40" x2="234.56" y2="354.90" stroke="#333" stroke-width="1" />
<line x1="234.56" y1="597.80" x2="234.56" y2="594.30" stroke="#333" stroke-width="1" />
<line x1="248.15" y1="351.40" x2="248.15" y2="354.90" stroke="#333" stroke-width="1" />
<line x1="248.15" y1="597.80" x2="248.15" y2="594.30" stroke="#333" stroke-width="1" />
<line x1="261.74" y1="351.40" x2="261.74" y2="354.90" stroke="#333" stroke-width="1" />
<line x1="261.74" y1="597.80" x2="261.74" y2="594.30" stroke="#333" stroke-width="1" />
<line x1="275.33" y1="351.40" x2="275.33" y2="354.90" stroke="#333" stroke-width="1" />
<line x1="275.33" y1="597.80" x2="275.33" y2="594.30" stroke="#333" stroke-width="1" />
<line x1="288.92" y1="351.40" x2="288.92" y2="354.90" stroke="#333" stroke-width="1" />
<line x1="288.92" y1="597.80" x2="288.92" y2="594.30" stroke="#333" stroke-width="1" />
<line x1="302.51" y1="351.40" x2="302.51" y2="354.90" stroke="#333" stroke-width="1" />
<line x1="302.51" y1="597.80" x2="302.51" y2="594.30" stroke="#333" stroke-width="1" />
<line x1="179.90" y1="351.40" x2="179.90" y2="597.80" stroke="#ddb050" stroke-width="1.3" />
<rect x="234.20" y="357.30" width="72.20" height="66.70" fill="#fff" stroke="#444" stroke-width="1" />
<rect x="239.00" y="361.40" width="25.30" height="11.10" fill="#0000ff" stroke="#111" stroke-width="0.8" />
<rect x="239.00" y="377.30" width="25.30" height="11.30" fill="#00c800" stroke="#111" stroke-width="0.8" />
<rect x="239.00" y="392.70" width="25.30" height="11.60" fill="#ff0000" stroke="#111" stroke-width="0.8" />
<text x="266.2" y="371.3" font-size="10.8" text-anchor="start" font-weight="normal" fill="#222" font-family='"Liberation Sans", sans-serif' textLength="28.0" lengthAdjust="spacingAndGlyphs" >Training</text>
<text x="266.2" y="387.2" font-size="10.8" text-anchor="start" font-weight="normal" fill="#222" font-family='"Liberation Sans", sans-serif' textLength="36.0" lengthAdjust="spacingAndGlyphs" >Validation</text>
<text x="266.2" y="402.7" font-size="10.8" text-anchor="start" font-weight="normal" fill="#222" font-family='"Liberation Sans", sans-serif' textLength="15.5" lengthAdjust="spacingAndGlyphs" >Test</text>
<line x1="239.00" y1="414.00" x2="264.30" y2="414.00" stroke="#ddb050" stroke-width="1.5" />
<text x="266.2" y="418.7" font-size="10.8" text-anchor="start" font-weight="normal" fill="#222" font-family='"Liberation Sans", sans-serif' textLength="37.0" lengthAdjust="spacingAndGlyphs" >Zero Error</text>
<text x="20.3" y="475.1" font-size="12.2" text-anchor="middle" font-weight="bold" fill="#111" font-family='"Liberation Sans", sans-serif' textLength="61.6" lengthAdjust="spacingAndGlyphs" transform="rotate(-90 20.3 475.1)" >Instances</text>
<text x="113.0" y="657.6" font-size="12.2" text-anchor="start" font-weight="bold" fill="#111" font-family='"Liberation Sans", sans-serif' textLength="122.2" lengthAdjust="spacingAndGlyphs" >Errors = Targets - Outputs</text>
<text x="0" y="0" transform="translate(9.7 688.8) scale(1 1.07)" font-size="17.6" font-family='"Liberation Serif", serif' fill="#111"><tspan font-weight="bold">(c)</tspan> Error histogram for scenario 2: case 4</text>
<text x="406.7" y="347.5" font-size="9.5" text-anchor="start" font-weight="bold" fill="#111" font-family='"Liberation Sans", sans-serif' textLength="81.4" lengthAdjust="spacingAndGlyphs" >Training: R=0.99999</text>
<rect x="385.40" y="352.50" width="125.40" height="117.20" fill="none" stroke="#444" stroke-width="1" />
<line x1="405.60" y1="469.70" x2="405.60" y2="467.70" stroke="#333" stroke-width="0.8" />
<line x1="405.60" y1="352.50" x2="405.60" y2="354.50" stroke="#333" stroke-width="0.8" />
<text x="404.7" y="478.9" font-size="7.5" text-anchor="middle" font-weight="normal" fill="#333" font-family='"Liberation Sans", sans-serif' textLength="17.0" lengthAdjust="spacingAndGlyphs" >0.301</text>
<line x1="428.40" y1="469.70" x2="428.40" y2="467.70" stroke="#333" stroke-width="0.8" />
<line x1="428.40" y1="352.50" x2="428.40" y2="354.50" stroke="#333" stroke-width="0.8" />
<text x="427.5" y="478.9" font-size="7.5" text-anchor="middle" font-weight="normal" fill="#333" font-family='"Liberation Sans", sans-serif' textLength="17.0" lengthAdjust="spacingAndGlyphs" >0.302</text>
<line x1="451.20" y1="469.70" x2="451.20" y2="467.70" stroke="#333" stroke-width="0.8" />
<line x1="451.20" y1="352.50" x2="451.20" y2="354.50" stroke="#333" stroke-width="0.8" />
<text x="450.3" y="478.9" font-size="7.5" text-anchor="middle" font-weight="normal" fill="#333" font-family='"Liberation Sans", sans-serif' textLength="17.0" lengthAdjust="spacingAndGlyphs" >0.303</text>
<line x1="474.00" y1="469.70" x2="474.00" y2="467.70" stroke="#333" stroke-width="0.8" />
<line x1="474.00" y1="352.50" x2="474.00" y2="354.50" stroke="#333" stroke-width="0.8" />
<text x="473.1" y="478.9" font-size="7.5" text-anchor="middle" font-weight="normal" fill="#333" font-family='"Liberation Sans", sans-serif' textLength="17.0" lengthAdjust="spacingAndGlyphs" >0.304</text>
<line x1="496.80" y1="469.70" x2="496.80" y2="467.70" stroke="#333" stroke-width="0.8" />
<line x1="496.80" y1="352.50" x2="496.80" y2="354.50" stroke="#333" stroke-width="0.8" />
<text x="495.9" y="478.9" font-size="7.5" text-anchor="middle" font-weight="normal" fill="#333" font-family='"Liberation Sans", sans-serif' textLength="17.0" lengthAdjust="spacingAndGlyphs" >0.305</text>
<line x1="385.40" y1="450.80" x2="387.40" y2="450.80" stroke="#333" stroke-width="0.8" />
<line x1="510.80" y1="450.80" x2="508.80" y2="450.80" stroke="#333" stroke-width="0.8" />
<text x="383.4" y="453.8" font-size="7.5" text-anchor="end" font-weight="normal" fill="#333" font-family='"Liberation Sans", sans-serif' textLength="17.0" lengthAdjust="spacingAndGlyphs" >0.301</text>
<line x1="385.40" y1="429.60" x2="387.40" y2="429.60" stroke="#333" stroke-width="0.8" />
<line x1="510.80" y1="429.60" x2="508.80" y2="429.60" stroke="#333" stroke-width="0.8" />
<text x="383.4" y="432.6" font-size="7.5" text-anchor="end" font-weight="normal" fill="#333" font-family='"Liberation Sans", sans-serif' textLength="17.0" lengthAdjust="spacingAndGlyphs" >0.302</text>
<line x1="385.40" y1="408.40" x2="387.40" y2="408.40" stroke="#333" stroke-width="0.8" />
<line x1="510.80" y1="408.40" x2="508.80" y2="408.40" stroke="#333" stroke-width="0.8" />
<text x="383.4" y="411.4" font-size="7.5" text-anchor="end" font-weight="normal" fill="#333" font-family='"Liberation Sans", sans-serif' textLength="17.0" lengthAdjust="spacingAndGlyphs" >0.303</text>
<line x1="385.40" y1="387.20" x2="387.40" y2="387.20" stroke="#333" stroke-width="0.8" />
<line x1="510.80" y1="387.20" x2="508.80" y2="387.20" stroke="#333" stroke-width="0.8" />
<text x="383.4" y="390.2" font-size="7.5" text-anchor="end" font-weight="normal" fill="#333" font-family='"Liberation Sans", sans-serif' textLength="17.0" lengthAdjust="spacingAndGlyphs" >0.304</text>
<line x1="385.40" y1="366.00" x2="387.40" y2="366.00" stroke="#333" stroke-width="0.8" />
<line x1="510.80" y1="366.00" x2="508.80" y2="366.00" stroke="#333" stroke-width="0.8" />
<text x="383.4" y="369.0" font-size="7.5" text-anchor="end" font-weight="normal" fill="#333" font-family='"Liberation Sans", sans-serif' textLength="17.0" lengthAdjust="spacingAndGlyphs" >0.305</text>
<line x1="385.40" y1="469.70" x2="510.80" y2="352.50" stroke="#1010d0" stroke-width="1.1" />
<circle cx="504.5" cy="358.4" r="2.4" fill="none" stroke="#333" stroke-width="0.75"/>
<circle cx="505.0" cy="357.9" r="2.4" fill="none" stroke="#333" stroke-width="0.75"/>
<circle cx="505.5" cy="357.4" r="2.4" fill="none" stroke="#333" stroke-width="0.75"/>
<circle cx="506.0" cy="357.0" r="2.4" fill="none" stroke="#333" stroke-width="0.75"/>
<circle cx="506.5" cy="356.5" r="2.4" fill="none" stroke="#333" stroke-width="0.75"/>
<circle cx="507.0" cy="356.0" r="2.4" fill="none" stroke="#333" stroke-width="0.75"/>
<circle cx="507.5" cy="355.5" r="2.4" fill="none" stroke="#333" stroke-width="0.75"/>
<circle cx="508.0" cy="355.1" r="2.4" fill="none" stroke="#333" stroke-width="0.75"/>
<circle cx="508.5" cy="354.6" r="2.4" fill="none" stroke="#333" stroke-width="0.75"/>
<circle cx="509.0" cy="354.1" r="2.4" fill="none" stroke="#333" stroke-width="0.75"/>
<circle cx="509.5" cy="353.7" r="2.4" fill="none" stroke="#333" stroke-width="0.75"/>
<circle cx="510.0" cy="353.2" r="2.4" fill="none" stroke="#333" stroke-width="0.75"/>
<circle cx="510.5" cy="352.7" r="2.4" fill="none" stroke="#333" stroke-width="0.75"/>
<circle cx="392.6" cy="463.0" r="2.4" fill="none" stroke="#333" stroke-width="0.75"/>
<circle cx="394.5" cy="461.2" r="2.4" fill="none" stroke="#333" stroke-width="0.75"/>
<circle cx="397.1" cy="458.8" r="2.4" fill="none" stroke="#333" stroke-width="0.75"/>
<circle cx="405.2" cy="451.2" r="2.4" fill="none" stroke="#333" stroke-width="0.75"/>
<circle cx="407.1" cy="449.4" r="2.4" fill="none" stroke="#333" stroke-width="0.75"/>
<circle cx="409.9" cy="446.8" r="2.4" fill="none" stroke="#333" stroke-width="0.75"/>
<circle cx="419.3" cy="438.0" r="2.4" fill="none" stroke="#333" stroke-width="0.75"/>
<circle cx="421.2" cy="436.2" r="2.4" fill="none" stroke="#333" stroke-width="0.75"/>
<circle cx="425.9" cy="431.8" r="2.4" fill="none" stroke="#333" stroke-width="0.75"/>
<circle cx="430.7" cy="427.4" r="2.4" fill="none" stroke="#333" stroke-width="0.75"/>
<circle cx="433.5" cy="424.8" r="2.4" fill="none" stroke="#333" stroke-width="0.75"/>
<circle cx="435.4" cy="423.0" r="2.4" fill="none" stroke="#333" stroke-width="0.75"/>
<circle cx="437.3" cy="421.2" r="2.4" fill="none" stroke="#333" stroke-width="0.75"/>
<circle cx="441.0" cy="417.7" r="2.4" fill="none" stroke="#333" stroke-width="0.75"/>
<circle cx="445.7" cy="413.3" r="2.4" fill="none" stroke="#333" stroke-width="0.75"/>
<circle cx="448.6" cy="410.7" r="2.4" fill="none" stroke="#333" stroke-width="0.75"/>
<circle cx="450.5" cy="408.9" r="2.4" fill="none" stroke="#333" stroke-width="0.75"/>
<circle cx="452.3" cy="407.1" r="2.4" fill="none" stroke="#333" stroke-width="0.75"/>
<circle cx="454.2" cy="405.4" r="2.4" fill="none" stroke="#333" stroke-width="0.75"/>
<circle cx="456.1" cy="403.6" r="2.4" fill="none" stroke="#333" stroke-width="0.75"/>
<circle cx="458.0" cy="401.8" r="2.4" fill="none" stroke="#333" stroke-width="0.75"/>
<circle cx="464.6" cy="395.7" r="2.4" fill="none" stroke="#333" stroke-width="0.75"/>
<circle cx="466.5" cy="393.9" r="2.4" fill="none" stroke="#333" stroke-width="0.75"/>
<circle cx="468.4" cy="392.2" r="2.4" fill="none" stroke="#333" stroke-width="0.75"/>
<circle cx="470.3" cy="390.4" r="2.4" fill="none" stroke="#333" stroke-width="0.75"/>
<circle cx="475.9" cy="385.1" r="2.4" fill="none" stroke="#333" stroke-width="0.75"/>
<circle cx="481.6" cy="379.8" r="2.4" fill="none" stroke="#333" stroke-width="0.75"/>
<circle cx="483.5" cy="378.1" r="2.4" fill="none" stroke="#333" stroke-width="0.75"/>
<circle cx="485.3" cy="376.3" r="2.4" fill="none" stroke="#333" stroke-width="0.75"/>
<circle cx="488.2" cy="373.6" r="2.4" fill="none" stroke="#333" stroke-width="0.75"/>
<circle cx="490.1" cy="371.9" r="2.4" fill="none" stroke="#333" stroke-width="0.75"/>
<circle cx="491.9" cy="370.1" r="2.4" fill="none" stroke="#333" stroke-width="0.75"/>
<circle cx="492.9" cy="369.2" r="2.4" fill="none" stroke="#333" stroke-width="0.75"/>
<circle cx="493.8" cy="368.4" r="2.4" fill="none" stroke="#333" stroke-width="0.75"/>
<circle cx="494.8" cy="367.5" r="2.4" fill="none" stroke="#333" stroke-width="0.75"/>
<circle cx="496.7" cy="365.7" r="2.4" fill="none" stroke="#333" stroke-width="0.75"/>
<circle cx="498.5" cy="364.0" r="2.4" fill="none" stroke="#333" stroke-width="0.75"/>
<circle cx="500.4" cy="362.2" r="2.4" fill="none" stroke="#333" stroke-width="0.75"/>
<circle cx="502.3" cy="360.4" r="2.4" fill="none" stroke="#333" stroke-width="0.75"/>
<circle cx="503.3" cy="359.5" r="2.4" fill="none" stroke="#333" stroke-width="0.75"/>
<circle cx="504.2" cy="358.7" r="2.4" fill="none" stroke="#333" stroke-width="0.75"/>
<circle cx="506.1" cy="356.9" r="2.4" fill="none" stroke="#333" stroke-width="0.75"/>
<circle cx="507.0" cy="356.0" r="2.4" fill="none" stroke="#333" stroke-width="0.75"/>
<circle cx="508.0" cy="355.1" r="2.4" fill="none" stroke="#333" stroke-width="0.75"/>
<circle cx="508.9" cy="354.3" r="2.4" fill="none" stroke="#333" stroke-width="0.75"/>
<circle cx="509.9" cy="353.4" r="2.4" fill="none" stroke="#333" stroke-width="0.75"/>
<circle cx="510.8" cy="352.5" r="2.4" fill="none" stroke="#333" stroke-width="0.75"/>
<text x="448.1" y="488.7" font-size="9" text-anchor="middle" font-weight="bold" fill="#111" font-family='"Liberation Sans", sans-serif' textLength="26.0" lengthAdjust="spacingAndGlyphs" >Target</text>
<text x="360.6" y="412.2" font-size="9" text-anchor="middle" font-weight="bold" fill="#111" font-family='"Liberation Sans", sans-serif' textLength="109.0" lengthAdjust="spacingAndGlyphs" transform="rotate(-90 360.6 412.2)" >Output ~= 1*Target + 0.00061</text>
<rect x="389.20" y="356.30" width="49.30" height="30.00" fill="#fff" stroke="#444" stroke-width="0.8" />
<circle cx="404.2" cy="361.8" r="1.9" fill="none" stroke="#333" stroke-width="0.7"/>
<line x1="393.00" y1="371.51" x2="415.50" y2="371.51" stroke="#1010d0" stroke-width="1.2" />
<line x1="393.00" y1="380.60" x2="415.50" y2="380.60" stroke="#666" stroke-width="0.8" stroke-dasharray="0.8 1.4"/>
<text x="417.8" y="365.0" font-size="7.3" text-anchor="start" font-weight="normal" fill="#333" font-family='"Liberation Sans", sans-serif' textLength="14.0" lengthAdjust="spacingAndGlyphs" >Data</text>
<text x="417.8" y="374.4" font-size="7.3" text-anchor="start" font-weight="normal" fill="#333" font-family='"Liberation Sans", sans-serif' >Fit</text>
<text x="417.8" y="383.5" font-size="7.3" text-anchor="start" font-weight="normal" fill="#333" font-family='"Liberation Sans", sans-serif' textLength="16.5" lengthAdjust="spacingAndGlyphs" >Y = T</text>
<text x="570.9" y="347.6" font-size="9.5" text-anchor="start" font-weight="bold" fill="#111" font-family='"Liberation Sans", sans-serif' textLength="89.5" lengthAdjust="spacingAndGlyphs" >Validation: R=0.99992</text>
<rect x="554.40" y="352.60" width="125.10" height="116.60" fill="none" stroke="#444" stroke-width="1" />
<line x1="576.60" y1="469.20" x2="576.60" y2="467.20" stroke="#333" stroke-width="0.8" />
<line x1="576.60" y1="352.60" x2="576.60" y2="354.60" stroke="#333" stroke-width="0.8" />
<text x="575.7" y="478.4" font-size="7.5" text-anchor="middle" font-weight="normal" fill="#333" font-family='"Liberation Sans", sans-serif' textLength="17.0" lengthAdjust="spacingAndGlyphs" >0.301</text>
<line x1="598.90" y1="469.20" x2="598.90" y2="467.20" stroke="#333" stroke-width="0.8" />
<line x1="598.90" y1="352.60" x2="598.90" y2="354.60" stroke="#333" stroke-width="0.8" />
<text x="598.0" y="478.4" font-size="7.5" text-anchor="middle" font-weight="normal" fill="#333" font-family='"Liberation Sans", sans-serif' textLength="17.0" lengthAdjust="spacingAndGlyphs" >0.302</text>
<line x1="621.20" y1="469.20" x2="621.20" y2="467.20" stroke="#333" stroke-width="0.8" />
<line x1="621.20" y1="352.60" x2="621.20" y2="354.60" stroke="#333" stroke-width="0.8" />
<text x="620.3" y="478.4" font-size="7.5" text-anchor="middle" font-weight="normal" fill="#333" font-family='"Liberation Sans", sans-serif' textLength="17.0" lengthAdjust="spacingAndGlyphs" >0.303</text>
<line x1="643.50" y1="469.20" x2="643.50" y2="467.20" stroke="#333" stroke-width="0.8" />
<line x1="643.50" y1="352.60" x2="643.50" y2="354.60" stroke="#333" stroke-width="0.8" />
<text x="642.6" y="478.4" font-size="7.5" text-anchor="middle" font-weight="normal" fill="#333" font-family='"Liberation Sans", sans-serif' textLength="17.0" lengthAdjust="spacingAndGlyphs" >0.304</text>
<line x1="665.80" y1="469.20" x2="665.80" y2="467.20" stroke="#333" stroke-width="0.8" />
<line x1="665.80" y1="352.60" x2="665.80" y2="354.60" stroke="#333" stroke-width="0.8" />
<text x="664.9" y="478.4" font-size="7.5" text-anchor="middle" font-weight="normal" fill="#333" font-family='"Liberation Sans", sans-serif' textLength="17.0" lengthAdjust="spacingAndGlyphs" >0.305</text>
<text x="554.4" y="478.2" font-size="7.5" text-anchor="middle" font-weight="normal" fill="#333" font-family='"Liberation Sans", sans-serif' >0.3</text>
<line x1="554.40" y1="449.00" x2="556.40" y2="449.00" stroke="#333" stroke-width="0.8" />
<line x1="679.50" y1="449.00" x2="677.50" y2="449.00" stroke="#333" stroke-width="0.8" />
<text x="552.4" y="452.0" font-size="7.5" text-anchor="end" font-weight="normal" fill="#333" font-family='"Liberation Sans", sans-serif' textLength="17.0" lengthAdjust="spacingAndGlyphs" >0.301</text>
<line x1="554.40" y1="428.25" x2="556.40" y2="428.25" stroke="#333" stroke-width="0.8" />
<line x1="679.50" y1="428.25" x2="677.50" y2="428.25" stroke="#333" stroke-width="0.8" />
<text x="552.4" y="431.2" font-size="7.5" text-anchor="end" font-weight="normal" fill="#333" font-family='"Liberation Sans", sans-serif' textLength="17.0" lengthAdjust="spacingAndGlyphs" >0.302</text>
<line x1="554.40" y1="407.50" x2="556.40" y2="407.50" stroke="#333" stroke-width="0.8" />
<line x1="679.50" y1="407.50" x2="677.50" y2="407.50" stroke="#333" stroke-width="0.8" />
<text x="552.4" y="410.5" font-size="7.5" text-anchor="end" font-weight="normal" fill="#333" font-family='"Liberation Sans", sans-serif' textLength="17.0" lengthAdjust="spacingAndGlyphs" >0.303</text>
<line x1="554.40" y1="386.75" x2="556.40" y2="386.75" stroke="#333" stroke-width="0.8" />
<line x1="679.50" y1="386.75" x2="677.50" y2="386.75" stroke="#333" stroke-width="0.8" />
<text x="552.4" y="389.8" font-size="7.5" text-anchor="end" font-weight="normal" fill="#333" font-family='"Liberation Sans", sans-serif' textLength="17.0" lengthAdjust="spacingAndGlyphs" >0.304</text>
<line x1="554.40" y1="366.00" x2="556.40" y2="366.00" stroke="#333" stroke-width="0.8" />
<line x1="679.50" y1="366.00" x2="677.50" y2="366.00" stroke="#333" stroke-width="0.8" />
<text x="552.4" y="369.0" font-size="7.5" text-anchor="end" font-weight="normal" fill="#333" font-family='"Liberation Sans", sans-serif' textLength="17.0" lengthAdjust="spacingAndGlyphs" >0.305</text>
<text x="552.4" y="472.2" font-size="7.5" text-anchor="end" font-weight="normal" fill="#333" font-family='"Liberation Sans", sans-serif' >0.3</text>
<line x1="554.40" y1="469.20" x2="679.50" y2="352.60" stroke="#20d020" stroke-width="1.1" />
<circle cx="555.0" cy="468.6" r="2.4" fill="none" stroke="#333" stroke-width="0.75"/>
<circle cx="572.4" cy="452.4" r="2.4" fill="none" stroke="#333" stroke-width="0.75"/>
<circle cx="580.9" cy="444.5" r="2.4" fill="none" stroke="#333" stroke-width="0.75"/>
<circle cx="585.7" cy="440.1" r="2.4" fill="none" stroke="#333" stroke-width="0.75"/>
<circle cx="594.6" cy="431.8" r="2.4" fill="none" stroke="#333" stroke-width="0.75"/>
<circle cx="631.6" cy="397.3" r="2.4" fill="none" stroke="#333" stroke-width="0.75"/>
<circle cx="642.6" cy="387.0" r="2.4" fill="none" stroke="#333" stroke-width="0.75"/>
<circle cx="650.7" cy="379.4" r="2.4" fill="none" stroke="#333" stroke-width="0.75"/>
<circle cx="658.6" cy="372.1" r="2.4" fill="none" stroke="#333" stroke-width="0.75"/>
<circle cx="660.5" cy="370.3" r="2.4" fill="none" stroke="#333" stroke-width="0.75"/>
<circle cx="668.5" cy="362.9" r="2.4" fill="none" stroke="#333" stroke-width="0.75"/>
<circle cx="677.2" cy="354.7" r="2.4" fill="none" stroke="#333" stroke-width="0.75"/>
<circle cx="678.5" cy="353.5" r="2.4" fill="none" stroke="#333" stroke-width="0.75"/>
<circle cx="679.5" cy="352.6" r="2.4" fill="none" stroke="#333" stroke-width="0.75"/>
<text x="617.0" y="488.2" font-size="9" text-anchor="middle" font-weight="bold" fill="#111" font-family='"Liberation Sans", sans-serif' textLength="26.0" lengthAdjust="spacingAndGlyphs" >Target</text>
<text x="529.3" y="411.6" font-size="9" text-anchor="middle" font-weight="bold" fill="#111" font-family='"Liberation Sans", sans-serif' textLength="115.0" lengthAdjust="spacingAndGlyphs" transform="rotate(-90 529.3 411.6)" >Output ~= 0.99*Target + 0.0016</text>
<rect x="557.40" y="356.00" width="49.40" height="30.60" fill="#fff" stroke="#444" stroke-width="0.8" />
<circle cx="572.4" cy="361.6" r="1.9" fill="none" stroke="#333" stroke-width="0.7"/>
<line x1="561.20" y1="371.51" x2="583.70" y2="371.51" stroke="#20d020" stroke-width="1.2" />
<line x1="561.20" y1="380.79" x2="583.70" y2="380.79" stroke="#666" stroke-width="0.8" stroke-dasharray="0.8 1.4"/>
<text x="586.0" y="364.8" font-size="7.3" text-anchor="start" font-weight="normal" fill="#333" font-family='"Liberation Sans", sans-serif' textLength="14.0" lengthAdjust="spacingAndGlyphs" >Data</text>
<text x="586.0" y="374.4" font-size="7.3" text-anchor="start" font-weight="normal" fill="#333" font-family='"Liberation Sans", sans-serif' >Fit</text>
<text x="586.0" y="383.7" font-size="7.3" text-anchor="start" font-weight="normal" fill="#333" font-family='"Liberation Sans", sans-serif' textLength="16.5" lengthAdjust="spacingAndGlyphs" >Y = T</text>
<text x="415.0" y="516.6" font-size="9.5" text-anchor="start" font-weight="bold" fill="#111" font-family='"Liberation Sans", sans-serif' textLength="65.3" lengthAdjust="spacingAndGlyphs" >Test: R=0.99994</text>
<rect x="385.40" y="521.60" width="125.60" height="116.30" fill="none" stroke="#444" stroke-width="1" />
<line x1="408.40" y1="637.90" x2="408.40" y2="635.90" stroke="#333" stroke-width="0.8" />
<line x1="408.40" y1="521.60" x2="408.40" y2="523.60" stroke="#333" stroke-width="0.8" />
<text x="407.5" y="647.1" font-size="7.5" text-anchor="middle" font-weight="normal" fill="#333" font-family='"Liberation Sans", sans-serif' textLength="17.0" lengthAdjust="spacingAndGlyphs" >0.301</text>
<line x1="430.75" y1="637.90" x2="430.75" y2="635.90" stroke="#333" stroke-width="0.8" />
<line x1="430.75" y1="521.60" x2="430.75" y2="523.60" stroke="#333" stroke-width="0.8" />
<text x="429.9" y="647.1" font-size="7.5" text-anchor="middle" font-weight="normal" fill="#333" font-family='"Liberation Sans", sans-serif' textLength="17.0" lengthAdjust="spacingAndGlyphs" >0.302</text>
<line x1="453.10" y1="637.90" x2="453.10" y2="635.90" stroke="#333" stroke-width="0.8" />
<line x1="453.10" y1="521.60" x2="453.10" y2="523.60" stroke="#333" stroke-width="0.8" />
<text x="452.2" y="647.1" font-size="7.5" text-anchor="middle" font-weight="normal" fill="#333" font-family='"Liberation Sans", sans-serif' textLength="17.0" lengthAdjust="spacingAndGlyphs" >0.303</text>
<line x1="475.45" y1="637.90" x2="475.45" y2="635.90" stroke="#333" stroke-width="0.8" />
<line x1="475.45" y1="521.60" x2="475.45" y2="523.60" stroke="#333" stroke-width="0.8" />
<text x="474.6" y="647.1" font-size="7.5" text-anchor="middle" font-weight="normal" fill="#333" font-family='"Liberation Sans", sans-serif' textLength="17.0" lengthAdjust="spacingAndGlyphs" >0.304</text>
<line x1="497.80" y1="637.90" x2="497.80" y2="635.90" stroke="#333" stroke-width="0.8" />
<line x1="497.80" y1="521.60" x2="497.80" y2="523.60" stroke="#333" stroke-width="0.8" />
<text x="496.9" y="647.1" font-size="7.5" text-anchor="middle" font-weight="normal" fill="#333" font-family='"Liberation Sans", sans-serif' textLength="17.0" lengthAdjust="spacingAndGlyphs" >0.305</text>
<text x="385.4" y="646.9" font-size="7.5" text-anchor="middle" font-weight="normal" fill="#333" font-family='"Liberation Sans", sans-serif' >0.3</text>
<line x1="385.40" y1="617.10" x2="387.40" y2="617.10" stroke="#333" stroke-width="0.8" />
<line x1="511.00" y1="617.10" x2="509.00" y2="617.10" stroke="#333" stroke-width="0.8" />
<text x="383.4" y="620.1" font-size="7.5" text-anchor="end" font-weight="normal" fill="#333" font-family='"Liberation Sans", sans-serif' textLength="17.0" lengthAdjust="spacingAndGlyphs" >0.301</text>
<line x1="385.40" y1="596.35" x2="387.40" y2="596.35" stroke="#333" stroke-width="0.8" />
<line x1="511.00" y1="596.35" x2="509.00" y2="596.35" stroke="#333" stroke-width="0.8" />
<text x="383.4" y="599.4" font-size="7.5" text-anchor="end" font-weight="normal" fill="#333" font-family='"Liberation Sans", sans-serif' textLength="17.0" lengthAdjust="spacingAndGlyphs" >0.302</text>
<line x1="385.40" y1="575.60" x2="387.40" y2="575.60" stroke="#333" stroke-width="0.8" />
<line x1="511.00" y1="575.60" x2="509.00" y2="575.60" stroke="#333" stroke-width="0.8" />
<text x="383.4" y="578.6" font-size="7.5" text-anchor="end" font-weight="normal" fill="#333" font-family='"Liberation Sans", sans-serif' textLength="17.0" lengthAdjust="spacingAndGlyphs" >0.303</text>
<line x1="385.40" y1="554.85" x2="387.40" y2="554.85" stroke="#333" stroke-width="0.8" />
<line x1="511.00" y1="554.85" x2="509.00" y2="554.85" stroke="#333" stroke-width="0.8" />
<text x="383.4" y="557.9" font-size="7.5" text-anchor="end" font-weight="normal" fill="#333" font-family='"Liberation Sans", sans-serif' textLength="17.0" lengthAdjust="spacingAndGlyphs" >0.304</text>
<line x1="385.40" y1="534.10" x2="387.40" y2="534.10" stroke="#333" stroke-width="0.8" />
<line x1="511.00" y1="534.10" x2="509.00" y2="534.10" stroke="#333" stroke-width="0.8" />
<text x="383.4" y="537.1" font-size="7.5" text-anchor="end" font-weight="normal" fill="#333" font-family='"Liberation Sans", sans-serif' textLength="17.0" lengthAdjust="spacingAndGlyphs" >0.305</text>
<text x="383.4" y="640.9" font-size="7.5" text-anchor="end" font-weight="normal" fill="#333" font-family='"Liberation Sans", sans-serif' >0.3</text>
<line x1="385.40" y1="637.90" x2="511.00" y2="521.60" stroke="#d02020" stroke-width="1.1" />
<circle cx="386.9" cy="636.5" r="2.4" fill="none" stroke="#333" stroke-width="0.75"/>
<circle cx="390.2" cy="633.5" r="2.4" fill="none" stroke="#333" stroke-width="0.75"/>
<circle cx="391.4" cy="632.3" r="2.4" fill="none" stroke="#333" stroke-width="0.75"/>
<circle cx="402.1" cy="622.4" r="2.4" fill="none" stroke="#333" stroke-width="0.75"/>
<circle cx="417.8" cy="607.9" r="2.4" fill="none" stroke="#333" stroke-width="0.75"/>
<circle cx="430.6" cy="596.0" r="2.4" fill="none" stroke="#333" stroke-width="0.75"/>
<circle cx="444.1" cy="583.6" r="2.4" fill="none" stroke="#333" stroke-width="0.75"/>
<circle cx="461.9" cy="567.1" r="2.4" fill="none" stroke="#333" stroke-width="0.75"/>
<circle cx="471.9" cy="557.8" r="2.4" fill="none" stroke="#333" stroke-width="0.75"/>
<circle cx="474.5" cy="555.4" r="2.4" fill="none" stroke="#333" stroke-width="0.75"/>
<circle cx="479.6" cy="550.7" r="2.4" fill="none" stroke="#333" stroke-width="0.75"/>
<circle cx="488.8" cy="542.2" r="2.4" fill="none" stroke="#333" stroke-width="0.75"/>
<circle cx="509.5" cy="523.0" r="2.4" fill="none" stroke="#333" stroke-width="0.75"/>
<text x="448.2" y="656.9" font-size="9" text-anchor="middle" font-weight="bold" fill="#111" font-family='"Liberation Sans", sans-serif' textLength="26.0" lengthAdjust="spacingAndGlyphs" >Target</text>
<text x="360.0" y="580.0" font-size="9" text-anchor="middle" font-weight="bold" fill="#111" font-family='"Liberation Sans", sans-serif' textLength="115.0" lengthAdjust="spacingAndGlyphs" transform="rotate(-90 360.0 580.0)" >Output ~= 0.99*Target + 0.0034</text>
<rect x="389.20" y="524.80" width="49.10" height="30.20" fill="#fff" stroke="#444" stroke-width="0.8" />
<circle cx="404.2" cy="530.3" r="1.9" fill="none" stroke="#333" stroke-width="0.7"/>
<line x1="393.00" y1="540.11" x2="415.50" y2="540.11" stroke="#d02020" stroke-width="1.2" />
<line x1="393.00" y1="549.26" x2="415.50" y2="549.26" stroke="#666" stroke-width="0.8" stroke-dasharray="0.8 1.4"/>
<text x="417.8" y="533.5" font-size="7.3" text-anchor="start" font-weight="normal" fill="#333" font-family='"Liberation Sans", sans-serif' textLength="14.0" lengthAdjust="spacingAndGlyphs" >Data</text>
<text x="417.8" y="543.0" font-size="7.3" text-anchor="start" font-weight="normal" fill="#333" font-family='"Liberation Sans", sans-serif' >Fit</text>
<text x="417.8" y="552.2" font-size="7.3" text-anchor="start" font-weight="normal" fill="#333" font-family='"Liberation Sans", sans-serif' textLength="16.5" lengthAdjust="spacingAndGlyphs" >Y = T</text>
<text x="587.3" y="516.6" font-size="9.5" text-anchor="start" font-weight="bold" fill="#111" font-family='"Liberation Sans", sans-serif' textLength="58.0" lengthAdjust="spacingAndGlyphs" >All: R=0.99996</text>
<rect x="554.40" y="521.60" width="125.60" height="116.30" fill="none" stroke="#444" stroke-width="1" />
<line x1="576.60" y1="637.90" x2="576.60" y2="635.90" stroke="#333" stroke-width="0.8" />
<line x1="576.60" y1="521.60" x2="576.60" y2="523.60" stroke="#333" stroke-width="0.8" />
<text x="575.7" y="647.1" font-size="7.5" text-anchor="middle" font-weight="normal" fill="#333" font-family='"Liberation Sans", sans-serif' textLength="17.0" lengthAdjust="spacingAndGlyphs" >0.301</text>
<line x1="599.00" y1="637.90" x2="599.00" y2="635.90" stroke="#333" stroke-width="0.8" />
<line x1="599.00" y1="521.60" x2="599.00" y2="523.60" stroke="#333" stroke-width="0.8" />
<text x="598.1" y="647.1" font-size="7.5" text-anchor="middle" font-weight="normal" fill="#333" font-family='"Liberation Sans", sans-serif' textLength="17.0" lengthAdjust="spacingAndGlyphs" >0.302</text>
<line x1="621.40" y1="637.90" x2="621.40" y2="635.90" stroke="#333" stroke-width="0.8" />
<line x1="621.40" y1="521.60" x2="621.40" y2="523.60" stroke="#333" stroke-width="0.8" />
<text x="620.5" y="647.1" font-size="7.5" text-anchor="middle" font-weight="normal" fill="#333" font-family='"Liberation Sans", sans-serif' textLength="17.0" lengthAdjust="spacingAndGlyphs" >0.303</text>
<line x1="643.80" y1="637.90" x2="643.80" y2="635.90" stroke="#333" stroke-width="0.8" />
<line x1="643.80" y1="521.60" x2="643.80" y2="523.60" stroke="#333" stroke-width="0.8" />
<text x="642.9" y="647.1" font-size="7.5" text-anchor="middle" font-weight="normal" fill="#333" font-family='"Liberation Sans", sans-serif' textLength="17.0" lengthAdjust="spacingAndGlyphs" >0.304</text>
<line x1="666.20" y1="637.90" x2="666.20" y2="635.90" stroke="#333" stroke-width="0.8" />
<line x1="666.20" y1="521.60" x2="666.20" y2="523.60" stroke="#333" stroke-width="0.8" />
<text x="665.3" y="647.1" font-size="7.5" text-anchor="middle" font-weight="normal" fill="#333" font-family='"Liberation Sans", sans-serif' textLength="17.0" lengthAdjust="spacingAndGlyphs" >0.305</text>
<text x="554.4" y="646.9" font-size="7.5" text-anchor="middle" font-weight="normal" fill="#333" font-family='"Liberation Sans", sans-serif' >0.3</text>
<line x1="554.40" y1="617.10" x2="556.40" y2="617.10" stroke="#333" stroke-width="0.8" />
<line x1="680.00" y1="617.10" x2="678.00" y2="617.10" stroke="#333" stroke-width="0.8" />
<text x="552.4" y="620.1" font-size="7.5" text-anchor="end" font-weight="normal" fill="#333" font-family='"Liberation Sans", sans-serif' textLength="17.0" lengthAdjust="spacingAndGlyphs" >0.301</text>
<line x1="554.40" y1="596.35" x2="556.40" y2="596.35" stroke="#333" stroke-width="0.8" />
<line x1="680.00" y1="596.35" x2="678.00" y2="596.35" stroke="#333" stroke-width="0.8" />
<text x="552.4" y="599.4" font-size="7.5" text-anchor="end" font-weight="normal" fill="#333" font-family='"Liberation Sans", sans-serif' textLength="17.0" lengthAdjust="spacingAndGlyphs" >0.302</text>
<line x1="554.40" y1="575.60" x2="556.40" y2="575.60" stroke="#333" stroke-width="0.8" />
<line x1="680.00" y1="575.60" x2="678.00" y2="575.60" stroke="#333" stroke-width="0.8" />
<text x="552.4" y="578.6" font-size="7.5" text-anchor="end" font-weight="normal" fill="#333" font-family='"Liberation Sans", sans-serif' textLength="17.0" lengthAdjust="spacingAndGlyphs" >0.303</text>
<line x1="554.40" y1="554.85" x2="556.40" y2="554.85" stroke="#333" stroke-width="0.8" />
<line x1="680.00" y1="554.85" x2="678.00" y2="554.85" stroke="#333" stroke-width="0.8" />
<text x="552.4" y="557.9" font-size="7.5" text-anchor="end" font-weight="normal" fill="#333" font-family='"Liberation Sans", sans-serif' textLength="17.0" lengthAdjust="spacingAndGlyphs" >0.304</text>
<line x1="554.40" y1="534.10" x2="556.40" y2="534.10" stroke="#333" stroke-width="0.8" />
<line x1="680.00" y1="534.10" x2="678.00" y2="534.10" stroke="#333" stroke-width="0.8" />
<text x="552.4" y="537.1" font-size="7.5" text-anchor="end" font-weight="normal" fill="#333" font-family='"Liberation Sans", sans-serif' textLength="17.0" lengthAdjust="spacingAndGlyphs" >0.305</text>
<text x="552.4" y="640.9" font-size="7.5" text-anchor="end" font-weight="normal" fill="#333" font-family='"Liberation Sans", sans-serif' >0.3</text>
<line x1="554.40" y1="637.90" x2="680.00" y2="521.60" stroke="#666" stroke-width="1.1" />
<circle cx="555.0" cy="637.3" r="2.4" fill="none" stroke="#333" stroke-width="0.75"/>
<circle cx="557.8" cy="634.8" r="2.4" fill="none" stroke="#333" stroke-width="0.75"/>
<circle cx="560.6" cy="632.2" r="2.4" fill="none" stroke="#333" stroke-width="0.75"/>
<circle cx="563.3" cy="629.6" r="2.4" fill="none" stroke="#333" stroke-width="0.75"/>
<circle cx="566.1" cy="627.1" r="2.4" fill="none" stroke="#333" stroke-width="0.75"/>
<circle cx="568.8" cy="624.5" r="2.4" fill="none" stroke="#333" stroke-width="0.75"/>
<circle cx="571.6" cy="622.0" r="2.4" fill="none" stroke="#333" stroke-width="0.75"/>
<circle cx="574.4" cy="619.4" r="2.4" fill="none" stroke="#333" stroke-width="0.75"/>
<circle cx="577.1" cy="616.8" r="2.4" fill="none" stroke="#333" stroke-width="0.75"/>
<circle cx="579.9" cy="614.3" r="2.4" fill="none" stroke="#333" stroke-width="0.75"/>
<circle cx="582.7" cy="611.7" r="2.4" fill="none" stroke="#333" stroke-width="0.75"/>
<circle cx="585.4" cy="609.2" r="2.4" fill="none" stroke="#333" stroke-width="0.75"/>
<circle cx="588.2" cy="606.6" r="2.4" fill="none" stroke="#333" stroke-width="0.75"/>
<circle cx="590.9" cy="604.1" r="2.4" fill="none" stroke="#333" stroke-width="0.75"/>
<circle cx="593.7" cy="601.5" r="2.4" fill="none" stroke="#333" stroke-width="0.75"/>
<circle cx="596.5" cy="598.9" r="2.4" fill="none" stroke="#333" stroke-width="0.75"/>
<circle cx="599.2" cy="596.4" r="2.4" fill="none" stroke="#333" stroke-width="0.75"/>
<circle cx="602.0" cy="593.8" r="2.4" fill="none" stroke="#333" stroke-width="0.75"/>
<circle cx="604.8" cy="591.3" r="2.4" fill="none" stroke="#333" stroke-width="0.75"/>
<circle cx="607.5" cy="588.7" r="2.4" fill="none" stroke="#333" stroke-width="0.75"/>
<circle cx="610.3" cy="586.1" r="2.4" fill="none" stroke="#333" stroke-width="0.75"/>
<circle cx="613.1" cy="583.6" r="2.4" fill="none" stroke="#333" stroke-width="0.75"/>
<circle cx="615.8" cy="581.0" r="2.4" fill="none" stroke="#333" stroke-width="0.75"/>
<circle cx="618.6" cy="578.5" r="2.4" fill="none" stroke="#333" stroke-width="0.75"/>
<circle cx="621.3" cy="575.9" r="2.4" fill="none" stroke="#333" stroke-width="0.75"/>
<circle cx="624.1" cy="573.4" r="2.4" fill="none" stroke="#333" stroke-width="0.75"/>
<circle cx="626.9" cy="570.8" r="2.4" fill="none" stroke="#333" stroke-width="0.75"/>
<circle cx="629.6" cy="568.2" r="2.4" fill="none" stroke="#333" stroke-width="0.75"/>
<circle cx="632.4" cy="565.7" r="2.4" fill="none" stroke="#333" stroke-width="0.75"/>
<circle cx="635.2" cy="563.1" r="2.4" fill="none" stroke="#333" stroke-width="0.75"/>
<circle cx="637.9" cy="560.6" r="2.4" fill="none" stroke="#333" stroke-width="0.75"/>
<circle cx="640.7" cy="558.0" r="2.4" fill="none" stroke="#333" stroke-width="0.75"/>
<circle cx="643.5" cy="555.4" r="2.4" fill="none" stroke="#333" stroke-width="0.75"/>
<circle cx="646.1" cy="553.0" r="2.4" fill="none" stroke="#333" stroke-width="0.75"/>
<circle cx="647.2" cy="552.0" r="2.4" fill="none" stroke="#333" stroke-width="0.75"/>
<circle cx="648.3" cy="550.9" r="2.4" fill="none" stroke="#333" stroke-width="0.75"/>
<circle cx="649.5" cy="549.9" r="2.4" fill="none" stroke="#333" stroke-width="0.75"/>
<circle cx="650.6" cy="548.8" r="2.4" fill="none" stroke="#333" stroke-width="0.75"/>
<circle cx="651.7" cy="547.8" r="2.4" fill="none" stroke="#333" stroke-width="0.75"/>
<circle cx="652.9" cy="546.7" r="2.4" fill="none" stroke="#333" stroke-width="0.75"/>
<circle cx="654.0" cy="545.7" r="2.4" fill="none" stroke="#333" stroke-width="0.75"/>
<circle cx="655.1" cy="544.6" r="2.4" fill="none" stroke="#333" stroke-width="0.75"/>
<circle cx="656.3" cy="543.6" r="2.4" fill="none" stroke="#333" stroke-width="0.75"/>
<circle cx="657.4" cy="542.5" r="2.4" fill="none" stroke="#333" stroke-width="0.75"/>
<circle cx="658.5" cy="541.5" r="2.4" fill="none" stroke="#333" stroke-width="0.75"/>
<circle cx="659.7" cy="540.4" r="2.4" fill="none" stroke="#333" stroke-width="0.75"/>
<circle cx="660.8" cy="539.4" r="2.4" fill="none" stroke="#333" stroke-width="0.75"/>
<circle cx="661.9" cy="538.3" r="2.4" fill="none" stroke="#333" stroke-width="0.75"/>
<circle cx="663.0" cy="537.3" r="2.4" fill="none" stroke="#333" stroke-width="0.75"/>
<circle cx="664.2" cy="536.3" r="2.4" fill="none" stroke="#333" stroke-width="0.75"/>
<circle cx="665.3" cy="535.2" r="2.4" fill="none" stroke="#333" stroke-width="0.75"/>
<circle cx="666.4" cy="534.2" r="2.4" fill="none" stroke="#333" stroke-width="0.75"/>
<circle cx="667.6" cy="533.1" r="2.4" fill="none" stroke="#333" stroke-width="0.75"/>
<circle cx="668.7" cy="532.1" r="2.4" fill="none" stroke="#333" stroke-width="0.75"/>
<circle cx="669.8" cy="531.0" r="2.4" fill="none" stroke="#333" stroke-width="0.75"/>
<circle cx="671.0" cy="530.0" r="2.4" fill="none" stroke="#333" stroke-width="0.75"/>
<circle cx="672.1" cy="528.9" r="2.4" fill="none" stroke="#333" stroke-width="0.75"/>
<circle cx="673.2" cy="527.9" r="2.4" fill="none" stroke="#333" stroke-width="0.75"/>
<circle cx="674.3" cy="526.8" r="2.4" fill="none" stroke="#333" stroke-width="0.75"/>
<circle cx="675.5" cy="525.8" r="2.4" fill="none" stroke="#333" stroke-width="0.75"/>
<circle cx="676.6" cy="524.7" r="2.4" fill="none" stroke="#333" stroke-width="0.75"/>
<circle cx="677.7" cy="523.7" r="2.4" fill="none" stroke="#333" stroke-width="0.75"/>
<circle cx="678.9" cy="522.6" r="2.4" fill="none" stroke="#333" stroke-width="0.75"/>
<circle cx="680.0" cy="521.6" r="2.4" fill="none" stroke="#333" stroke-width="0.75"/>
<text x="617.2" y="656.9" font-size="9" text-anchor="middle" font-weight="bold" fill="#111" font-family='"Liberation Sans", sans-serif' textLength="26.0" lengthAdjust="spacingAndGlyphs" >Target</text>
<text x="529.3" y="580.2" font-size="9" text-anchor="middle" font-weight="bold" fill="#111" font-family='"Liberation Sans", sans-serif' textLength="105.0" lengthAdjust="spacingAndGlyphs" transform="rotate(-90 529.3 580.2)" >Output ~= 1*Target + 0.0015</text>
<rect x="557.40" y="524.80" width="49.40" height="30.40" fill="#fff" stroke="#444" stroke-width="0.8" />
<circle cx="572.4" cy="530.4" r="1.9" fill="none" stroke="#333" stroke-width="0.7"/>
<line x1="561.20" y1="540.21" x2="583.70" y2="540.21" stroke="#666" stroke-width="1.2" />
<line x1="561.20" y1="549.42" x2="583.70" y2="549.42" stroke="#666" stroke-width="0.8" stroke-dasharray="0.8 1.4"/>
<text x="586.0" y="533.6" font-size="7.3" text-anchor="start" font-weight="normal" fill="#333" font-family='"Liberation Sans", sans-serif' textLength="14.0" lengthAdjust="spacingAndGlyphs" >Data</text>
<text x="586.0" y="543.1" font-size="7.3" text-anchor="start" font-weight="normal" fill="#333" font-family='"Liberation Sans", sans-serif' >Fit</text>
<text x="586.0" y="552.3" font-size="7.3" text-anchor="start" font-weight="normal" fill="#333" font-family='"Liberation Sans", sans-serif' textLength="16.5" lengthAdjust="spacingAndGlyphs" >Y = T</text>
<text x="0" y="0" transform="translate(353.2 688.7) scale(1 1.07)" font-size="17.6" font-family='"Liberation Serif", serif' fill="#111"><tspan font-weight="bold">(d)</tspan> Regression results for scenario 2: case 4</text>
</svg>
</body></html>
